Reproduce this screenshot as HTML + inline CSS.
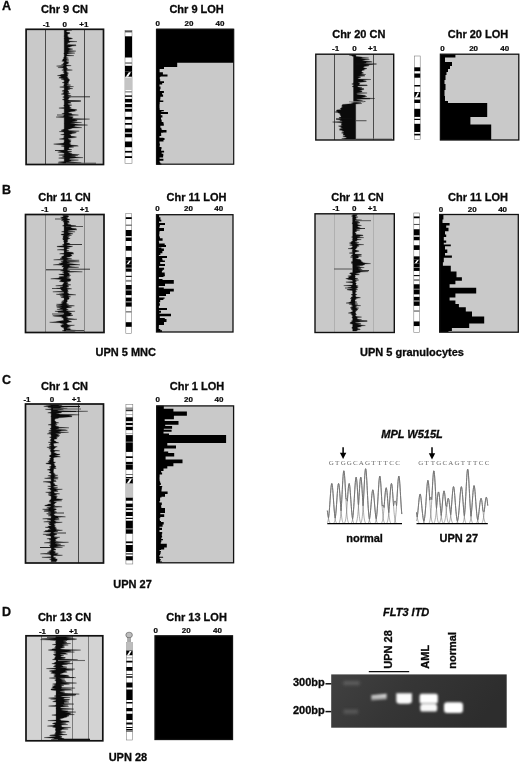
<!DOCTYPE html>
<html><head><meta charset="utf-8"><title>Figure</title>
<style>html,body{margin:0;padding:0;background:#fff}svg{display:block}</style></head>
<body>
<svg width="520" height="762" viewBox="0 0 520 762" font-family="'Liberation Sans', Arial, sans-serif">
<rect width="520" height="762" fill="#fff"/>
<text x="2.00" y="10.20" font-size="12.5" text-anchor="start" font-weight="bold" font-style="normal" fill="#0a0a0a" stroke="#0a0a0a" stroke-width="0.3" >A</text>
<text x="2.00" y="193.80" font-size="12.5" text-anchor="start" font-weight="bold" font-style="normal" fill="#0a0a0a" stroke="#0a0a0a" stroke-width="0.3" >B</text>
<text x="2.00" y="383.80" font-size="12.5" text-anchor="start" font-weight="bold" font-style="normal" fill="#0a0a0a" stroke="#0a0a0a" stroke-width="0.3" >C</text>
<text x="2.00" y="616.30" font-size="12.5" text-anchor="start" font-weight="bold" font-style="normal" fill="#0a0a0a" stroke="#0a0a0a" stroke-width="0.3" >D</text>
<text x="64.50" y="12.80" font-size="11" text-anchor="middle" font-weight="bold" font-style="normal" fill="#0a0a0a" stroke="#0a0a0a" stroke-width="0.3" >Chr 9 CN</text>
<text x="46.20" y="27.10" font-size="8" text-anchor="middle" font-weight="bold" font-style="normal" fill="#0a0a0a" stroke="#0a0a0a" stroke-width="0.22" >-1</text>
<text x="64.80" y="27.10" font-size="8" text-anchor="middle" font-weight="bold" font-style="normal" fill="#0a0a0a" stroke="#0a0a0a" stroke-width="0.22" >0</text>
<text x="83.90" y="27.10" font-size="8" text-anchor="middle" font-weight="bold" font-style="normal" fill="#0a0a0a" stroke="#0a0a0a" stroke-width="0.22" >+1</text>
<rect x="26.1" y="29.3" width="77.40" height="135.20" fill="#c9c9c9"/>
<line x1="45.5" y1="29.3" x2="45.5" y2="164.5" stroke="#2a2a2a" stroke-width="0.8"/>
<line x1="84.5" y1="29.3" x2="84.5" y2="164.5" stroke="#2a2a2a" stroke-width="0.8"/>
<polygon points="72.0,30.1 67.5,30.6 66.4,31.1 66.4,31.6 66.4,32.1 69.6,32.6 70.1,33.1 69.6,33.6 68.2,34.1 67.6,34.6 67.3,35.1 67.7,35.6 67.6,36.1 67.5,36.6 68.8,37.1 67.9,37.6 71.5,38.1 72.6,38.6 70.6,39.1 68.4,39.6 69.2,40.1 68.6,40.6 69.4,41.1 77.0,41.6 67.8,42.1 69.9,42.6 66.9,43.1 68.2,43.6 67.1,44.1 66.6,44.6 71.3,45.1 76.2,45.6 72.1,46.1 70.8,46.6 69.7,47.1 67.6,47.6 68.4,48.1 70.1,48.6 72.8,49.1 70.7,49.6 68.9,50.1 68.6,50.6 75.9,51.1 71.2,51.6 67.3,52.1 68.8,52.6 74.9,53.1 69.7,53.6 67.6,54.1 66.6,54.6 67.1,55.1 73.9,55.6 66.4,56.1 66.4,56.6 66.4,57.1 66.4,57.6 68.5,58.1 66.4,58.6 66.4,59.1 67.3,59.6 69.0,60.1 66.4,60.6 66.4,61.1 66.4,61.6 69.1,62.1 68.1,62.6 67.5,63.1 68.5,63.6 66.4,64.1 66.4,64.6 66.4,65.1 71.2,65.6 66.9,66.1 66.4,66.6 66.4,67.1 66.4,67.6 67.1,68.1 67.7,68.6 66.4,69.1 67.4,69.6 72.4,70.1 66.8,70.6 66.4,71.1 66.4,71.6 67.5,72.1 66.6,72.6 68.6,73.1 66.6,73.6 68.4,74.1 66.6,74.6 68.0,75.1 67.5,75.6 67.3,76.1 66.4,76.6 68.4,77.1 67.2,77.6 67.2,78.1 68.6,78.6 68.3,79.1 69.5,79.6 69.5,80.1 69.4,80.6 68.9,81.1 69.0,81.6 67.8,82.1 68.1,82.6 69.0,83.1 67.7,83.6 67.0,84.1 68.1,84.6 70.7,85.1 67.2,85.6 66.6,86.1 73.6,86.6 67.4,87.1 69.8,87.6 70.3,88.1 72.8,88.6 67.0,89.1 69.8,89.6 67.7,90.1 67.8,90.6 68.0,91.1 68.6,91.6 69.1,92.1 68.6,92.6 66.7,93.1 70.4,93.6 68.3,94.1 68.3,94.6 67.1,95.1 71.2,95.6 68.3,96.1 67.5,96.6 70.5,97.1 68.7,97.6 69.1,98.1 68.6,98.6 68.3,99.1 67.3,99.6 69.1,100.1 69.6,100.6 79.8,101.1 67.8,101.6 69.1,102.1 70.6,102.6 71.2,103.1 67.9,103.6 67.7,104.1 68.7,104.6 71.9,105.1 69.9,105.6 69.3,106.1 69.8,106.6 69.0,107.1 71.3,107.6 69.4,108.1 70.2,108.6 72.0,109.1 75.9,109.6 77.1,110.1 74.6,110.6 75.5,111.1 72.0,111.6 69.6,112.1 68.6,112.6 68.3,113.1 71.7,113.6 71.4,114.1 72.7,114.6 78.5,115.1 67.4,115.6 73.3,116.1 68.0,116.6 72.3,117.1 73.3,117.6 71.7,118.1 73.0,118.6 89.7,119.1 78.0,119.6 74.2,120.1 77.2,120.6 76.9,121.1 71.4,121.6 76.5,122.1 81.7,122.6 69.8,123.1 73.7,123.6 75.4,124.1 79.0,124.6 87.6,125.1 74.3,125.6 75.2,126.1 72.9,126.6 77.8,127.1 81.8,127.6 72.7,128.1 71.3,128.6 69.8,129.1 67.5,129.6 68.6,130.1 68.7,130.6 79.2,131.1 74.8,131.6 70.8,132.1 76.4,132.6 75.5,133.1 72.3,133.6 71.2,134.1 69.0,134.6 70.8,135.1 71.0,135.6 70.3,136.1 74.1,136.6 76.6,137.1 74.5,137.6 70.7,138.1 67.8,138.6 68.2,139.1 69.1,139.6 71.3,140.1 69.9,140.6 69.5,141.1 71.0,141.6 70.8,142.1 69.8,142.6 69.4,143.1 69.5,143.6 71.2,144.1 69.6,144.6 70.7,145.1 76.9,145.6 78.4,146.1 70.2,146.6 73.8,147.1 69.3,147.6 68.9,148.1 68.5,148.6 69.6,149.1 71.9,149.6 68.1,150.1 67.6,150.6 66.9,151.1 71.8,151.6 71.0,152.1 67.9,152.6 69.5,153.1 72.2,153.6 69.7,154.1 79.3,154.6 73.5,155.1 77.9,155.6 69.3,156.1 75.4,156.6 75.2,157.1 83.1,157.6 75.3,158.1 69.4,158.6 70.0,159.1 68.7,159.6 78.5,160.1 71.5,160.6 70.6,161.1 68.2,161.6 74.6,162.1 81.3,162.6 75.3,163.1 73.5,163.6 63.9,163.6 57.9,163.1 63.8,162.6 58.5,162.1 64.2,161.6 64.2,161.1 64.2,160.6 64.2,160.1 64.2,159.6 64.2,159.1 64.2,158.6 58.6,158.1 64.2,157.6 64.2,157.1 62.3,156.6 64.2,156.1 64.2,155.6 58.8,155.1 64.2,154.6 64.1,154.1 64.2,153.6 64.2,153.1 61.3,152.6 57.7,152.1 62.0,151.6 59.2,151.1 59.3,150.6 64.2,150.1 64.2,149.6 64.1,149.1 64.2,148.6 64.2,148.1 64.2,147.6 64.2,147.1 64.0,146.6 61.2,146.1 64.2,145.6 64.2,145.1 58.0,144.6 53.6,144.1 59.9,143.6 64.2,143.1 63.7,142.6 64.2,142.1 64.2,141.6 64.2,141.1 64.2,140.6 64.2,140.1 64.2,139.6 59.3,139.1 62.2,138.6 64.2,138.1 64.2,137.6 63.4,137.1 64.2,136.6 64.2,136.1 64.2,135.6 64.2,135.1 60.6,134.6 64.2,134.1 64.2,133.6 63.7,133.1 64.2,132.6 63.9,132.1 59.2,131.6 64.0,131.1 61.5,130.6 61.2,130.1 63.3,129.6 64.2,129.1 64.2,128.6 64.2,128.1 64.2,127.6 64.2,127.1 64.2,126.6 64.2,126.1 64.2,125.6 64.2,125.1 64.2,124.6 64.2,124.1 64.1,123.6 64.2,123.1 64.2,122.6 64.2,122.1 64.2,121.6 64.2,121.1 64.2,120.6 64.2,120.1 64.2,119.6 64.2,119.1 64.2,118.6 64.2,118.1 64.2,117.6 56.0,117.1 62.8,116.6 64.2,116.1 63.6,115.6 64.2,115.1 64.2,114.6 64.2,114.1 61.8,113.6 64.2,113.1 64.2,112.6 64.2,112.1 64.2,111.6 64.2,111.1 64.2,110.6 64.2,110.1 64.2,109.6 64.2,109.1 64.2,108.6 58.9,108.1 64.2,107.6 64.2,107.1 64.2,106.6 64.2,106.1 63.6,105.6 64.2,105.1 64.2,104.6 64.2,104.1 64.2,103.6 64.2,103.1 64.2,102.6 64.2,102.1 64.2,101.6 64.2,101.1 64.2,100.6 64.0,100.1 62.3,99.6 64.2,99.1 64.2,98.6 64.2,98.1 64.1,97.6 62.6,97.1 64.2,96.6 64.2,96.1 64.2,95.6 64.1,95.1 64.2,94.6 61.2,94.1 64.2,93.6 62.6,93.1 64.2,92.6 63.7,92.1 64.2,91.6 61.9,91.1 63.0,90.6 64.2,90.1 64.2,89.6 64.2,89.1 64.2,88.6 64.2,88.1 64.2,87.6 59.7,87.1 64.2,86.6 64.2,86.1 63.7,85.6 63.7,85.1 64.2,84.6 64.2,84.1 64.2,83.6 64.2,83.1 62.1,82.6 64.2,82.1 64.2,81.6 64.2,81.1 64.2,80.6 64.2,80.1 62.8,79.6 61.0,79.1 64.2,78.6 58.8,78.1 59.2,77.6 61.6,77.1 60.9,76.6 60.1,76.1 57.4,75.6 60.6,75.1 60.8,74.6 64.2,74.1 64.2,73.6 64.2,73.1 64.2,72.6 62.8,72.1 64.2,71.6 64.2,71.1 63.7,70.6 61.7,70.1 64.2,69.6 62.9,69.1 63.5,68.6 64.2,68.1 57.9,67.6 63.4,67.1 62.7,66.6 56.5,66.1 63.3,65.6 64.2,65.1 61.4,64.6 64.2,64.1 62.8,63.6 63.4,63.1 64.2,62.6 64.2,62.1 64.2,61.6 61.7,61.1 62.9,60.6 62.7,60.1 62.7,59.6 63.3,59.1 63.7,58.6 64.0,58.1 63.5,57.6 64.2,57.1 64.2,56.6 64.2,56.1 64.2,55.6 64.2,55.1 64.2,54.6 64.2,54.1 63.7,53.6 64.2,53.1 64.2,52.6 64.2,52.1 64.2,51.6 64.2,51.1 64.2,50.6 64.2,50.1 64.2,49.6 64.2,49.1 64.2,48.6 64.2,48.1 64.2,47.6 64.2,47.1 64.2,46.6 64.2,46.1 64.2,45.6 64.2,45.1 64.2,44.6 64.2,44.1 64.2,43.6 64.2,43.1 64.2,42.6 64.2,42.1 64.2,41.6 64.2,41.1 64.2,40.6 64.2,40.1 64.2,39.6 64.2,39.1 64.0,38.6 64.2,38.1 64.2,37.6 64.2,37.1 64.2,36.6 63.7,36.1 64.2,35.6 64.2,35.1 64.2,34.6 64.2,34.1 64.2,33.6 64.2,33.1 64.2,32.6 64.2,32.1 64.2,31.6 64.2,31.1 64.2,30.6 64.2,30.1" fill="#0a0a0a" stroke="#0a0a0a" stroke-width="0.3"/>
<line x1="66" y1="96.8" x2="90" y2="96.8" stroke="#111" stroke-width="0.8"/>
<line x1="66" y1="45" x2="76" y2="45" stroke="#111" stroke-width="0.7"/>
<line x1="66" y1="101" x2="81" y2="101" stroke="#111" stroke-width="1.0"/>
<line x1="66" y1="163.2" x2="96" y2="163.2" stroke="#666" stroke-width="1.2"/>
<line x1="55" y1="150.5" x2="65" y2="150.5" stroke="#111" stroke-width="0.8"/>
<line x1="57" y1="115" x2="65" y2="115" stroke="#111" stroke-width="0.7"/>
<rect x="26.1" y="29.3" width="77.40" height="135.20" fill="none" stroke="#111" stroke-width="1.7"/>
<rect x="125" y="30.6" width="7.00" height="132.80" fill="#fff" stroke="#777" stroke-width="0.55"/>
<rect x="125" y="30.6" width="7.00" height="1.80" fill="#555"/>
<rect x="125" y="36.3" width="7.00" height="21.20" fill="#000"/>
<rect x="125" y="62.2" width="7.00" height="1.70" fill="#888"/>
<rect x="125" y="65.8" width="7.00" height="5.90" fill="#000"/>
<rect x="125" y="71.7" width="7.00" height="5.00" fill="#000"/>
<path d="M125.84,76.7L128.85,72.20L130.95,72.20L128.15,76.7Z" fill="#fff"/>
<rect x="125" y="77.6" width="7.00" height="12.40" fill="#c4c4c4"/>
<rect x="125" y="91" width="7.00" height="1.60" fill="#999"/>
<rect x="125" y="95.4" width="7.00" height="1.40" fill="#000"/>
<rect x="125" y="98.9" width="7.00" height="3.50" fill="#000"/>
<rect x="125" y="104" width="7.00" height="3.30" fill="#000"/>
<rect x="125" y="108.8" width="7.00" height="2.90" fill="#000"/>
<rect x="125" y="116.9" width="7.00" height="2.70" fill="#000"/>
<rect x="125" y="123" width="7.00" height="1.70" fill="#000"/>
<rect x="125" y="128.5" width="7.00" height="3.90" fill="#000"/>
<rect x="125" y="133.7" width="7.00" height="3.60" fill="#000"/>
<rect x="125" y="141.5" width="7.00" height="5.70" fill="#000"/>
<rect x="125" y="150.9" width="7.00" height="1.70" fill="#000"/>
<rect x="125" y="156.2" width="7.00" height="1.80" fill="#000"/>
<text x="196.60" y="12.80" font-size="11" text-anchor="middle" font-weight="bold" font-style="normal" fill="#0a0a0a" stroke="#0a0a0a" stroke-width="0.3" >Chr 9 LOH</text>
<text x="157.80" y="26.10" font-size="8" text-anchor="middle" font-weight="bold" font-style="normal" fill="#0a0a0a" stroke="#0a0a0a" stroke-width="0.22" >0</text>
<text x="188.90" y="26.10" font-size="8" text-anchor="middle" font-weight="bold" font-style="normal" fill="#0a0a0a" stroke="#0a0a0a" stroke-width="0.22" >20</text>
<text x="220.00" y="26.10" font-size="8" text-anchor="middle" font-weight="bold" font-style="normal" fill="#0a0a0a" stroke="#0a0a0a" stroke-width="0.22" >40</text>
<rect x="156.5" y="29.3" width="77.20" height="134.90" fill="#c9c9c9"/>
<path d="M156.5,28.7H233.7V62.7H156.5ZM156.5,62.7H177.2V67.1H156.5ZM156.5,67.1H164.0V69.0H156.5ZM156.5,69.0H159.6V70.1H156.5ZM156.5,70.1H159.6V72.2H156.5ZM156.5,72.2H162.9V74.7H156.5ZM156.5,74.7H160.5V76.9H156.5ZM156.5,76.9H159.8V79.3H156.5ZM156.5,79.3H160.2V81.2H156.5ZM156.5,81.2H164.0V83.0H156.5ZM156.5,83.0H162.2V84.4H156.5ZM156.5,84.4H159.5V86.6H156.5ZM156.5,86.6H160.5V89.2H156.5ZM156.5,89.2H159.9V91.0H156.5ZM156.5,91.0H163.9V92.9H156.5ZM156.5,92.9H162.1V94.5H156.5ZM156.5,94.5H163.1V96.7H156.5ZM156.5,96.7H160.4V98.8H156.5ZM156.5,98.8H160.2V100.4H156.5ZM156.5,100.4H163.3V102.0H156.5ZM156.5,102.0H159.7V104.3H156.5ZM156.5,104.3H159.5V105.7H156.5ZM156.5,105.7H159.5V108.2H156.5ZM156.5,108.2H159.7V109.9H156.5ZM156.5,109.9H163.8V111.2H156.5ZM156.5,111.2H161.4V112.9H156.5ZM156.5,112.9H160.8V115.2H156.5ZM156.5,115.2H162.4V117.5H156.5ZM156.5,117.5H161.0V119.5H156.5ZM156.5,119.5H161.7V121.9H156.5ZM156.5,121.9H163.4V123.4H156.5ZM156.5,123.4H163.8V125.8H156.5ZM156.5,125.8H160.4V127.8H156.5ZM156.5,127.8H161.4V129.4H156.5ZM156.5,129.4H162.1V130.7H156.5ZM156.5,130.7H163.2V132.8H156.5ZM156.5,132.8H161.1V134.2H156.5ZM156.5,134.2H161.2V136.0H156.5ZM156.5,136.0H159.5V137.7H156.5ZM156.5,137.7H163.4V140.2H156.5ZM156.5,140.2H163.5V141.4H156.5ZM156.5,141.4H159.5V143.4H156.5ZM156.5,143.4H159.9V145.4H156.5ZM156.5,145.4H159.6V147.0H156.5ZM156.5,147.0H161.5V149.3H156.5ZM156.5,149.3H161.1V150.7H156.5ZM156.5,150.7H164.1V152.4H156.5ZM156.5,152.4H161.7V153.7H156.5ZM156.5,153.7H163.3V156.0H156.5ZM156.5,156.0H163.1V157.4H156.5ZM156.5,157.4H159.6V158.7H156.5ZM156.5,158.7H163.4V160.7H156.5ZM156.5,160.7H159.6V162.3H156.5ZM156.5,162.3H160.3V163.5H156.5ZM156.5,163.5H161.4V164.8H156.5ZM156.5,74.5H167.5V76.5H156.5ZM156.5,112.0H168.0V114.0H156.5ZM156.5,130.0H166.5V132.5H156.5ZM156.5,138.0H164.5V140.0H156.5Z" fill="#000"/>
<rect x="156.5" y="29.3" width="77.20" height="134.90" fill="none" stroke="#111" stroke-width="1.2"/>
<text x="358.80" y="38.20" font-size="11" text-anchor="middle" font-weight="bold" font-style="normal" fill="#0a0a0a" stroke="#0a0a0a" stroke-width="0.3" >Chr 20 CN</text>
<text x="335.60" y="50.60" font-size="8" text-anchor="middle" font-weight="bold" font-style="normal" fill="#0a0a0a" stroke="#0a0a0a" stroke-width="0.22" >-1</text>
<text x="354.50" y="50.60" font-size="8" text-anchor="middle" font-weight="bold" font-style="normal" fill="#0a0a0a" stroke="#0a0a0a" stroke-width="0.22" >0</text>
<text x="372.60" y="50.60" font-size="8" text-anchor="middle" font-weight="bold" font-style="normal" fill="#0a0a0a" stroke="#0a0a0a" stroke-width="0.22" >+1</text>
<rect x="315.8" y="54.2" width="77.90" height="85.80" fill="#c9c9c9"/>
<line x1="334.5" y1="54.2" x2="334.5" y2="140" stroke="#2a2a2a" stroke-width="0.8"/>
<line x1="373.5" y1="54.2" x2="373.5" y2="140" stroke="#2a2a2a" stroke-width="0.8"/>
<polygon points="355.7,55.0 356.0,55.5 355.7,56.0 356.4,56.5 361.1,57.0 362.9,57.5 368.8,58.0 359.9,58.5 363.7,59.0 369.4,59.5 364.6,60.0 361.8,60.5 365.7,61.0 370.5,61.5 372.3,62.0 366.1,62.5 366.1,63.0 363.1,63.5 369.0,64.0 372.7,64.5 365.2,65.0 369.2,65.5 368.2,66.0 363.5,66.5 364.4,67.0 362.7,67.5 364.3,68.0 367.0,68.5 365.7,69.0 363.3,69.5 364.5,70.0 362.1,70.5 362.0,71.0 361.0,71.5 362.2,72.0 362.5,72.5 363.6,73.0 361.9,73.5 361.2,74.0 365.8,74.5 359.0,75.0 364.2,75.5 365.0,76.0 357.3,76.5 360.7,77.0 360.3,77.5 358.3,78.0 357.5,78.5 359.4,79.0 371.0,79.5 362.8,80.0 363.6,80.5 366.2,81.0 366.3,81.5 363.1,82.0 357.6,82.5 359.0,83.0 359.9,83.5 359.7,84.0 359.3,84.5 358.6,85.0 367.5,85.5 357.0,86.0 357.9,86.5 357.9,87.0 362.0,87.5 358.9,88.0 364.0,88.5 360.5,89.0 364.1,89.5 361.8,90.0 359.0,90.5 362.1,91.0 361.9,91.5 361.5,92.0 356.5,92.5 367.1,93.0 357.0,93.5 356.5,94.0 357.8,94.5 362.1,95.0 365.5,95.5 364.5,96.0 366.9,96.5 364.0,97.0 360.8,97.5 365.8,98.0 374.8,98.5 362.0,99.0 356.1,99.5 357.8,100.0 361.5,100.5 363.2,101.0 365.5,101.5 358.0,102.0 361.0,102.5 356.2,103.0 361.9,103.5 355.7,104.0 355.7,104.5 355.7,105.0 355.7,105.5 355.7,106.0 355.7,106.5 355.7,107.0 355.7,107.5 355.7,108.0 355.7,108.5 355.7,109.0 355.7,109.5 355.7,110.0 355.7,110.5 355.7,111.0 355.7,111.5 355.7,112.0 355.7,112.5 355.7,113.0 355.7,113.5 355.7,114.0 355.7,114.5 355.7,115.0 355.7,115.5 355.7,116.0 355.7,116.5 355.7,117.0 355.7,117.5 355.7,118.0 355.7,118.5 355.7,119.0 355.7,119.5 355.7,120.0 355.7,120.5 355.7,121.0 355.7,121.5 355.7,122.0 355.7,122.5 355.7,123.0 355.7,123.5 355.7,124.0 355.7,124.5 355.7,125.0 355.7,125.5 355.7,126.0 355.7,126.5 355.7,127.0 355.7,127.5 355.7,128.0 355.7,128.5 355.7,129.0 355.7,129.5 355.7,130.0 355.7,130.5 355.7,131.0 355.7,131.5 355.7,132.0 355.7,132.5 355.7,133.0 355.7,133.5 355.7,134.0 355.7,134.5 355.7,135.0 355.7,135.5 355.7,136.0 355.7,136.5 355.7,137.0 355.7,137.5 355.7,138.0 355.7,138.5 355.7,139.0 345.1,139.0 341.7,138.5 346.9,138.0 346.2,137.5 345.5,137.0 342.8,136.5 344.7,136.0 345.4,135.5 342.9,135.0 343.9,134.5 342.9,134.0 344.3,133.5 341.4,133.0 342.4,132.5 344.0,132.0 344.0,131.5 341.8,131.0 343.3,130.5 339.3,130.0 340.9,129.5 339.3,129.0 343.2,128.5 340.5,128.0 341.3,127.5 341.8,127.0 339.9,126.5 338.4,126.0 343.0,125.5 340.9,125.0 341.7,124.5 341.5,124.0 341.3,123.5 342.5,123.0 338.9,122.5 332.5,122.0 342.2,121.5 342.2,121.0 339.9,120.5 340.1,120.0 336.0,119.5 341.7,119.0 340.7,118.5 338.9,118.0 339.2,117.5 340.8,117.0 341.1,116.5 341.1,116.0 340.5,115.5 340.1,115.0 340.5,114.5 339.4,114.0 340.4,113.5 338.5,113.0 337.7,112.5 334.8,112.0 338.1,111.5 335.9,111.0 337.1,110.5 336.6,110.0 341.4,109.5 340.6,109.0 340.4,108.5 340.9,108.0 342.6,107.5 341.4,107.0 342.4,106.5 342.3,106.0 341.8,105.5 342.3,105.0 342.6,104.5 348.3,104.0 353.5,103.5 351.3,103.0 353.4,102.5 353.4,102.0 353.5,101.5 353.5,101.0 353.5,100.5 353.5,100.0 353.5,99.5 353.5,99.0 353.5,98.5 353.5,98.0 353.5,97.5 353.5,97.0 353.5,96.5 353.5,96.0 353.5,95.5 353.5,95.0 353.5,94.5 353.5,94.0 353.5,93.5 353.5,93.0 353.5,92.5 353.5,92.0 353.5,91.5 353.4,91.0 353.5,90.5 353.5,90.0 353.5,89.5 353.5,89.0 353.5,88.5 353.5,88.0 353.5,87.5 353.5,87.0 352.1,86.5 353.5,86.0 353.5,85.5 353.5,85.0 353.5,84.5 351.7,84.0 353.5,83.5 353.1,83.0 353.5,82.5 353.5,82.0 353.5,81.5 353.5,81.0 353.5,80.5 353.5,80.0 353.5,79.5 353.5,79.0 353.5,78.5 353.5,78.0 353.5,77.5 353.5,77.0 353.5,76.5 353.5,76.0 353.5,75.5 353.5,75.0 353.5,74.5 353.5,74.0 353.5,73.5 353.5,73.0 353.5,72.5 353.5,72.0 353.5,71.5 353.5,71.0 353.5,70.5 353.5,70.0 353.5,69.5 353.5,69.0 353.5,68.5 353.5,68.0 353.5,67.5 353.5,67.0 353.5,66.5 353.5,66.0 353.5,65.5 353.5,65.0 353.5,64.5 353.5,64.0 353.5,63.5 353.5,63.0 353.5,62.5 353.5,62.0 353.5,61.5 353.5,61.0 353.5,60.5 353.5,60.0 353.5,59.5 353.5,59.0 353.5,58.5 353.5,58.0 353.5,57.5 353.5,57.0 353.5,56.5 352.0,56.0 351.6,55.5 349.1,55.0" fill="#0a0a0a" stroke="#0a0a0a" stroke-width="0.3"/>
<line x1="356" y1="64" x2="376.5" y2="64" stroke="#111" stroke-width="0.9"/>
<line x1="349" y1="101.8" x2="364" y2="101.8" stroke="#888" stroke-width="1.0"/>
<line x1="356" y1="120.7" x2="366.5" y2="120.7" stroke="#555" stroke-width="1.1"/>
<line x1="336" y1="118.7" x2="352" y2="118.7" stroke="#111" stroke-width="0.7"/>
<line x1="356" y1="98.7" x2="370" y2="98.7" stroke="#111" stroke-width="0.8"/>
<line x1="356" y1="85.2" x2="367" y2="85.2" stroke="#111" stroke-width="0.7"/>
<line x1="356" y1="139" x2="392" y2="139" stroke="#777" stroke-width="1.0"/>
<rect x="315.8" y="54.2" width="77.90" height="85.80" fill="none" stroke="#111" stroke-width="1.4"/>
<rect x="414.3" y="56" width="5.90" height="83.50" fill="#fff" stroke="#777" stroke-width="0.55"/>
<rect x="414.3" y="67.3" width="5.90" height="3.90" fill="#000"/>
<rect x="414.3" y="73.5" width="5.90" height="4.20" fill="#000"/>
<rect x="414.3" y="85" width="5.90" height="1.50" fill="#000"/>
<rect x="414.3" y="92" width="5.90" height="5.30" fill="#000"/>
<path d="M415.01,97.3L417.55,92.53L419.31,92.53L416.95,97.3Z" fill="#fff"/>
<rect x="414.3" y="99.6" width="5.90" height="3.40" fill="#000"/>
<rect x="414.3" y="108.8" width="5.90" height="8.10" fill="#000"/>
<rect x="414.3" y="118.8" width="5.90" height="1.20" fill="#000"/>
<rect x="414.3" y="123.8" width="5.90" height="8.20" fill="#000"/>
<rect x="414.3" y="133.8" width="5.90" height="1.60" fill="#000"/>
<text x="478.00" y="38.20" font-size="11" text-anchor="middle" font-weight="bold" font-style="normal" fill="#0a0a0a" stroke="#0a0a0a" stroke-width="0.3" >Chr 20 LOH</text>
<text x="442.60" y="51.20" font-size="8" text-anchor="middle" font-weight="bold" font-style="normal" fill="#0a0a0a" stroke="#0a0a0a" stroke-width="0.22" >0</text>
<text x="473.60" y="51.20" font-size="8" text-anchor="middle" font-weight="bold" font-style="normal" fill="#0a0a0a" stroke="#0a0a0a" stroke-width="0.22" >20</text>
<text x="504.70" y="51.20" font-size="8" text-anchor="middle" font-weight="bold" font-style="normal" fill="#0a0a0a" stroke="#0a0a0a" stroke-width="0.22" >40</text>
<rect x="440.4" y="54.2" width="78.40" height="85.80" fill="#c9c9c9"/>
<path d="M440.4,54.2H455.4V57.4H440.4ZM440.4,57.4H445.0V62.0H440.4ZM440.4,62.0H452.0V66.0H440.4ZM440.4,66.0H450.0V69.0H440.4ZM440.4,69.0H448.0V72.0H440.4ZM440.4,72.0H446.5V75.0H440.4ZM440.4,75.0H445.5V80.0H440.4ZM440.4,80.0H444.5V84.0H440.4ZM440.4,84.0H445.5V90.0H440.4ZM440.4,90.0H444.5V96.0H440.4ZM440.4,96.0H445.0V101.0H440.4ZM440.4,101.0H448.0V103.0H440.4ZM440.4,103.0H487.2V117.0H440.4ZM440.4,117.0H470.4V124.6H440.4ZM440.4,124.6H491.2V140.0H440.4Z" fill="#000"/>
<rect x="440.4" y="54.2" width="78.40" height="85.80" fill="none" stroke="#111" stroke-width="1.3"/>
<text x="64.50" y="201.30" font-size="11" text-anchor="middle" font-weight="bold" font-style="normal" fill="#0a0a0a" stroke="#0a0a0a" stroke-width="0.3" >Chr 11 CN</text>
<text x="44.80" y="211.60" font-size="8" text-anchor="middle" font-weight="bold" font-style="normal" fill="#0a0a0a" stroke="#0a0a0a" stroke-width="0.22" >-1</text>
<text x="65.10" y="211.60" font-size="8" text-anchor="middle" font-weight="bold" font-style="normal" fill="#0a0a0a" stroke="#0a0a0a" stroke-width="0.22" >0</text>
<text x="84.30" y="211.60" font-size="8" text-anchor="middle" font-weight="bold" font-style="normal" fill="#0a0a0a" stroke="#0a0a0a" stroke-width="0.22" >+1</text>
<rect x="25.5" y="214.5" width="78.50" height="118.00" fill="#c9c9c9"/>
<line x1="45.5" y1="214.5" x2="45.5" y2="332.5" stroke="#777" stroke-width="0.8"/>
<line x1="84.5" y1="214.5" x2="84.5" y2="332.5" stroke="#777" stroke-width="0.8"/>
<polygon points="66.6,215.3 68.2,215.8 69.0,216.3 67.8,216.8 68.0,217.3 66.3,217.8 67.0,218.3 67.7,218.8 69.1,219.3 70.1,219.8 66.3,220.3 67.8,220.8 69.2,221.3 68.9,221.8 66.9,222.3 69.5,222.8 67.8,223.3 67.4,223.8 68.0,224.3 70.8,224.8 71.4,225.3 76.1,225.8 72.9,226.3 71.3,226.8 71.2,227.3 70.4,227.8 72.5,228.3 76.4,228.8 75.4,229.3 77.0,229.8 70.6,230.3 68.4,230.8 67.4,231.3 75.1,231.8 68.8,232.3 67.6,232.8 70.6,233.3 73.1,233.8 70.2,234.3 68.5,234.8 71.6,235.3 67.3,235.8 69.5,236.3 66.8,236.8 68.7,237.3 67.5,237.8 70.2,238.3 68.7,238.8 67.0,239.3 68.3,239.8 67.5,240.3 67.5,240.8 67.1,241.3 68.0,241.8 66.7,242.3 66.3,242.8 69.5,243.3 69.4,243.8 70.5,244.3 67.9,244.8 66.3,245.3 68.0,245.8 72.7,246.3 71.1,246.8 68.7,247.3 66.5,247.8 69.5,248.3 67.1,248.8 66.6,249.3 66.8,249.8 66.6,250.3 69.1,250.8 66.9,251.3 66.3,251.8 71.5,252.3 73.4,252.8 72.2,253.3 74.0,253.8 71.2,254.3 70.5,254.8 71.6,255.3 72.2,255.8 70.1,256.3 70.4,256.8 67.3,257.3 66.3,257.8 68.0,258.3 71.8,258.8 66.3,259.3 69.1,259.8 79.2,260.3 66.3,260.8 67.2,261.3 79.3,261.8 70.1,262.3 69.0,262.8 66.4,263.3 72.0,263.8 75.9,264.3 80.0,264.8 68.8,265.3 69.8,265.8 69.4,266.3 72.2,266.8 78.8,267.3 68.1,267.8 68.5,268.3 67.3,268.8 67.6,269.3 66.9,269.8 67.6,270.3 69.9,270.8 69.1,271.3 82.4,271.8 68.1,272.3 67.5,272.8 69.6,273.3 68.5,273.8 69.1,274.3 69.6,274.8 70.7,275.3 68.4,275.8 69.7,276.3 67.3,276.8 66.3,277.3 69.5,277.8 66.3,278.3 69.9,278.8 71.2,279.3 69.9,279.8 70.3,280.3 71.0,280.8 69.7,281.3 67.0,281.8 66.3,282.3 68.0,282.8 68.3,283.3 67.4,283.8 66.3,284.3 70.9,284.8 68.8,285.3 67.4,285.8 67.4,286.3 69.0,286.8 67.3,287.3 66.3,287.8 67.7,288.3 71.7,288.8 68.1,289.3 66.8,289.8 68.1,290.3 67.3,290.8 68.5,291.3 66.9,291.8 67.6,292.3 67.2,292.8 68.8,293.3 67.2,293.8 70.1,294.3 75.9,294.8 67.2,295.3 68.7,295.8 68.2,296.3 70.7,296.8 68.1,297.3 69.2,297.8 69.2,298.3 69.0,298.8 68.7,299.3 67.2,299.8 67.3,300.3 67.0,300.8 67.3,301.3 67.2,301.8 66.5,302.3 66.3,302.8 66.3,303.3 67.3,303.8 68.7,304.3 66.3,304.8 67.5,305.3 74.5,305.8 70.8,306.3 67.8,306.8 71.6,307.3 68.1,307.8 66.4,308.3 66.3,308.8 66.8,309.3 68.4,309.8 66.3,310.3 66.3,310.8 75.1,311.3 67.7,311.8 68.7,312.3 70.1,312.8 71.5,313.3 71.4,313.8 69.8,314.3 71.4,314.8 73.0,315.3 70.9,315.8 67.9,316.3 66.3,316.8 66.3,317.3 67.9,317.8 67.6,318.3 72.1,318.8 77.0,319.3 66.3,319.8 69.3,320.3 67.7,320.8 70.8,321.3 71.7,321.8 68.7,322.3 67.5,322.8 66.4,323.3 66.5,323.8 67.6,324.3 66.9,324.8 74.5,325.3 68.8,325.8 68.5,326.3 70.5,326.8 69.0,327.3 67.5,327.8 66.8,328.3 70.3,328.8 70.4,329.3 70.3,329.8 75.8,330.3 75.7,330.8 74.4,331.3 64.1,331.3 62.1,330.8 64.1,330.3 64.1,329.8 64.1,329.3 64.1,328.8 63.6,328.3 64.1,327.8 62.2,327.3 61.2,326.8 61.1,326.3 60.5,325.8 62.1,325.3 61.6,324.8 64.1,324.3 63.3,323.8 61.0,323.3 59.5,322.8 49.6,322.3 55.7,321.8 58.0,321.3 61.5,320.8 64.1,320.3 63.8,319.8 63.3,319.3 63.1,318.8 64.1,318.3 61.5,317.8 63.1,317.3 61.8,316.8 54.7,316.3 52.7,315.8 58.6,315.3 63.3,314.8 63.6,314.3 64.1,313.8 64.1,313.3 63.5,312.8 58.0,312.3 58.2,311.8 54.9,311.3 60.7,310.8 63.3,310.3 62.6,309.8 56.9,309.3 60.2,308.8 60.2,308.3 62.3,307.8 56.7,307.3 61.6,306.8 56.9,306.3 56.2,305.8 62.7,305.3 60.6,304.8 56.4,304.3 63.0,303.8 61.7,303.3 61.2,302.8 62.6,302.3 64.1,301.8 61.6,301.3 62.9,300.8 64.1,300.3 64.1,299.8 64.1,299.3 64.1,298.8 64.1,298.3 63.6,297.8 60.9,297.3 64.0,296.8 61.6,296.3 59.9,295.8 64.1,295.3 62.0,294.8 56.2,294.3 60.4,293.8 64.1,293.3 64.0,292.8 63.9,292.3 52.8,291.8 64.1,291.3 61.6,290.8 62.8,290.3 60.8,289.8 61.1,289.3 61.4,288.8 56.5,288.3 62.1,287.8 60.0,287.3 63.1,286.8 62.8,286.3 55.7,285.8 62.8,285.3 62.3,284.8 63.2,284.3 62.9,283.8 64.1,283.3 64.1,282.8 64.1,282.3 61.3,281.8 59.3,281.3 60.2,280.8 61.0,280.3 61.6,279.8 59.1,279.3 50.7,278.8 57.2,278.3 60.8,277.8 58.8,277.3 59.3,276.8 64.1,276.3 63.6,275.8 64.1,275.3 60.2,274.8 58.7,274.3 64.0,273.8 64.1,273.3 64.1,272.8 62.4,272.3 64.1,271.8 63.4,271.3 60.4,270.8 62.5,270.3 63.6,269.8 63.1,269.3 63.3,268.8 63.1,268.3 64.1,267.8 63.6,267.3 61.7,266.8 62.3,266.3 63.4,265.8 62.7,265.3 53.2,264.8 59.9,264.3 61.2,263.8 58.8,263.3 62.7,262.8 62.5,262.3 60.8,261.8 63.3,261.3 63.0,260.8 64.0,260.3 53.6,259.8 64.1,259.3 61.9,258.8 60.0,258.3 62.1,257.8 61.5,257.3 61.6,256.8 62.6,256.3 63.8,255.8 64.1,255.3 64.1,254.8 64.1,254.3 59.5,253.8 63.7,253.3 64.1,252.8 64.1,252.3 64.1,251.8 64.1,251.3 64.1,250.8 64.1,250.3 57.2,249.8 64.1,249.3 64.1,248.8 64.1,248.3 64.1,247.8 64.1,247.3 57.1,246.8 57.1,246.3 63.3,245.8 63.7,245.3 62.3,244.8 63.8,244.3 64.1,243.8 64.1,243.3 64.1,242.8 64.1,242.3 63.7,241.8 63.7,241.3 64.1,240.8 64.1,240.3 62.8,239.8 63.2,239.3 62.5,238.8 63.5,238.3 63.2,237.8 63.1,237.3 62.9,236.8 63.3,236.3 63.8,235.8 63.4,235.3 61.2,234.8 61.2,234.3 64.1,233.8 64.1,233.3 64.1,232.8 64.1,232.3 61.5,231.8 64.1,231.3 64.1,230.8 64.1,230.3 64.1,229.8 64.1,229.3 64.1,228.8 64.1,228.3 64.1,227.8 64.1,227.3 64.1,226.8 64.1,226.3 62.4,225.8 64.1,225.3 64.1,224.8 64.1,224.3 64.0,223.8 64.1,223.3 64.1,222.8 64.1,222.3 62.8,221.8 64.1,221.3 63.9,220.8 61.2,220.3 63.0,219.8 61.7,219.3 64.1,218.8 61.4,218.3 62.2,217.8 60.5,217.3 63.9,216.8 63.0,216.3 63.9,215.8 62.5,215.3" fill="#0a0a0a" stroke="#0a0a0a" stroke-width="0.3"/>
<line x1="46" y1="269.8" x2="65" y2="269.8" stroke="#111" stroke-width="0.9"/>
<line x1="66" y1="269.2" x2="90" y2="269.2" stroke="#111" stroke-width="0.8"/>
<line x1="66" y1="226.5" x2="83" y2="226.5" stroke="#333" stroke-width="0.8"/>
<line x1="55" y1="219" x2="65" y2="219" stroke="#111" stroke-width="0.7"/>
<line x1="52" y1="288.5" x2="65" y2="288.5" stroke="#111" stroke-width="0.7"/>
<line x1="52" y1="314" x2="65" y2="314" stroke="#111" stroke-width="0.7"/>
<line x1="66" y1="244.5" x2="82" y2="244.5" stroke="#111" stroke-width="0.8"/>
<line x1="66" y1="330.5" x2="84" y2="330.5" stroke="#444" stroke-width="1"/>
<rect x="25.5" y="214.5" width="78.50" height="118.00" fill="none" stroke="#111" stroke-width="1.7"/>
<rect x="125.8" y="213.4" width="5.90" height="120.20" fill="#fff" stroke="#777" stroke-width="0.55"/>
<rect x="125.8" y="217.2" width="5.90" height="1.80" fill="#000"/>
<rect x="125.8" y="224.7" width="5.90" height="0.90" fill="#333"/>
<rect x="125.8" y="230.0" width="5.90" height="6.10" fill="#000"/>
<rect x="125.8" y="237.5" width="5.90" height="3.50" fill="#000"/>
<rect x="125.8" y="246.0" width="5.90" height="4.70" fill="#000"/>
<rect x="125.8" y="257.1" width="5.90" height="3.25" fill="#000"/>
<rect x="125.8" y="260.35" width="5.90" height="4.00" fill="#000"/>
<path d="M126.51,264.35L129.04,260.75L130.81,260.75L128.45,264.35Z" fill="#fff"/>
<rect x="125.8" y="264.35" width="5.90" height="3.45" fill="#000"/>
<rect x="125.8" y="267.8" width="5.90" height="0.95" fill="#777"/>
<rect x="125.8" y="268.75" width="5.90" height="2.95" fill="#000"/>
<rect x="125.8" y="275.8" width="5.90" height="1.10" fill="#000"/>
<rect x="125.8" y="279.9" width="5.90" height="1.90" fill="#888"/>
<rect x="125.8" y="285.0" width="5.90" height="4.60" fill="#000"/>
<rect x="125.8" y="289.6" width="5.90" height="0.90" fill="#777"/>
<rect x="125.8" y="290.5" width="5.90" height="4.60" fill="#000"/>
<rect x="125.8" y="297.6" width="5.90" height="3.70" fill="#000"/>
<rect x="125.8" y="301.3" width="5.90" height="1.10" fill="#666"/>
<rect x="125.8" y="302.4" width="5.90" height="4.20" fill="#000"/>
<rect x="125.8" y="311.0" width="5.90" height="1.60" fill="#888"/>
<rect x="125.8" y="322.2" width="5.90" height="4.60" fill="#000"/>
<text x="196.50" y="201.30" font-size="11" text-anchor="middle" font-weight="bold" font-style="normal" fill="#0a0a0a" stroke="#0a0a0a" stroke-width="0.3" >Chr 11 LOH</text>
<text x="157.50" y="211.00" font-size="8" text-anchor="middle" font-weight="bold" font-style="normal" fill="#0a0a0a" stroke="#0a0a0a" stroke-width="0.22" >0</text>
<text x="188.50" y="211.00" font-size="8" text-anchor="middle" font-weight="bold" font-style="normal" fill="#0a0a0a" stroke="#0a0a0a" stroke-width="0.22" >20</text>
<text x="218.80" y="211.00" font-size="8" text-anchor="middle" font-weight="bold" font-style="normal" fill="#0a0a0a" stroke="#0a0a0a" stroke-width="0.22" >40</text>
<rect x="156.5" y="214.7" width="76.50" height="117.30" fill="#c9c9c9"/>
<path d="M156.5,215.0H159.1V217.3H156.5ZM156.5,217.3H160.4V219.8H156.5ZM156.5,219.8H161.3V221.5H156.5ZM156.5,221.5H159.0V222.7H156.5ZM156.5,222.7H159.1V224.4H156.5ZM156.5,224.4H159.9V226.5H156.5ZM156.5,226.5H159.3V228.1H156.5ZM156.5,228.1H162.1V229.5H156.5ZM156.5,229.5H159.6V231.9H156.5ZM156.5,231.9H159.4V234.2H156.5ZM156.5,234.2H159.2V236.4H156.5ZM156.5,236.4H159.9V238.3H156.5ZM156.5,238.3H162.6V240.7H156.5ZM156.5,240.7H158.9V241.9H156.5ZM156.5,241.9H159.1V243.6H156.5ZM156.5,243.6H164.7V245.0H156.5ZM156.5,245.0H158.8V247.5H156.5ZM156.5,247.5H161.4V248.5H156.5ZM156.5,248.5H163.9V251.0H156.5ZM156.5,251.0H162.4V253.2H156.5ZM156.5,253.2H160.4V254.9H156.5ZM156.5,254.9H158.9V257.3H156.5ZM156.5,257.3H162.2V259.4H156.5ZM156.5,259.4H162.7V260.6H156.5ZM156.5,260.6H164.9V261.9H156.5ZM156.5,261.9H160.2V264.1H156.5ZM156.5,264.1H165.0V266.1H156.5ZM156.5,266.1H159.1V267.7H156.5ZM156.5,267.7H164.1V269.8H156.5ZM156.5,269.8H162.6V271.0H156.5ZM156.5,271.0H161.9V272.6H156.5ZM156.5,272.6H164.7V274.4H156.5ZM156.5,274.4H164.9V276.3H156.5ZM156.5,276.3H158.9V278.9H156.5ZM156.5,278.9H162.5V281.4H156.5ZM156.5,281.4H161.0V282.6H156.5ZM156.5,282.6H158.8V284.0H156.5ZM156.5,284.0H159.7V285.1H156.5ZM156.5,285.1H158.8V287.5H156.5ZM156.5,287.5H163.8V289.5H156.5ZM156.5,289.5H162.2V291.0H156.5ZM156.5,291.0H162.6V293.0H156.5ZM156.5,293.0H165.1V294.8H156.5ZM156.5,294.8H159.1V296.4H156.5ZM156.5,296.4H159.2V297.6H156.5ZM156.5,297.6H164.6V298.8H156.5ZM156.5,298.8H163.4V300.0H156.5ZM156.5,300.0H160.2V302.2H156.5ZM156.5,302.2H159.1V303.3H156.5ZM156.5,303.3H159.9V305.8H156.5ZM156.5,305.8H158.9V308.0H156.5ZM156.5,308.0H159.6V309.1H156.5ZM156.5,309.1H159.1V310.7H156.5ZM156.5,310.7H161.0V312.7H156.5ZM156.5,312.7H159.4V314.6H156.5ZM156.5,314.6H159.3V316.3H156.5ZM156.5,316.3H159.8V318.1H156.5ZM156.5,318.1H164.8V320.2H156.5ZM156.5,320.2H161.1V321.7H156.5ZM156.5,321.7H163.3V322.9H156.5ZM156.5,322.9H161.1V324.7H156.5ZM156.5,324.7H158.9V326.6H156.5ZM156.5,326.6H158.8V329.0H156.5ZM156.5,329.0H160.3V330.3H156.5ZM156.5,330.3H162.0V332.0H156.5ZM156.5,223.0H165.0V225.0H156.5ZM156.5,228.0H164.0V231.0H156.5ZM156.5,245.0H166.0V247.0H156.5ZM156.5,256.0H167.0V258.0H156.5ZM156.5,275.0H163.5V277.0H156.5ZM156.5,280.0H173.8V283.8H156.5ZM156.5,283.8H165.0V286.0H156.5ZM156.5,288.8H173.8V291.5H156.5ZM156.5,291.5H170.0V294.0H156.5ZM156.5,294.0H166.0V296.0H156.5ZM156.5,308.0H167.0V310.0H156.5ZM156.5,313.8H171.0V316.2H156.5ZM156.5,319.0H166.5V322.0H156.5ZM156.5,322.0H164.0V325.0H156.5Z" fill="#000"/>
<rect x="156.5" y="214.7" width="76.50" height="117.30" fill="none" stroke="#111" stroke-width="1.3"/>
<text x="125.75" y="355.50" font-size="11" text-anchor="middle" font-weight="bold" font-style="normal" fill="#0a0a0a" stroke="#0a0a0a" stroke-width="0.3" >UPN 5 MNC</text>
<text x="357.50" y="200.70" font-size="11" text-anchor="middle" font-weight="bold" font-style="normal" fill="#0a0a0a" stroke="#0a0a0a" stroke-width="0.3" >Chr 11 CN</text>
<text x="336.00" y="211.30" font-size="8" text-anchor="middle" font-weight="bold" font-style="normal" fill="#0a0a0a" stroke="#0a0a0a" stroke-width="0.22" >-1</text>
<text x="354.30" y="211.30" font-size="8" text-anchor="middle" font-weight="bold" font-style="normal" fill="#0a0a0a" stroke="#0a0a0a" stroke-width="0.22" >0</text>
<text x="372.40" y="211.30" font-size="8" text-anchor="middle" font-weight="bold" font-style="normal" fill="#0a0a0a" stroke="#0a0a0a" stroke-width="0.22" >+1</text>
<rect x="315" y="213.8" width="79.30" height="118.70" fill="#c9c9c9"/>
<line x1="334.5" y1="213.8" x2="334.5" y2="332.5" stroke="#aaa" stroke-width="0.8"/>
<line x1="373.5" y1="213.8" x2="373.5" y2="332.5" stroke="#aaa" stroke-width="0.8"/>
<polygon points="357.5,214.6 356.0,215.1 357.0,215.6 355.1,216.1 355.4,216.6 358.1,217.1 355.8,217.6 356.3,218.1 355.1,218.6 356.6,219.1 355.2,219.6 361.9,220.1 356.0,220.6 357.7,221.1 358.7,221.6 356.0,222.1 360.0,222.6 359.3,223.1 357.1,223.6 357.5,224.1 357.5,224.6 359.6,225.1 361.5,225.6 357.5,226.1 357.5,226.6 357.8,227.1 359.2,227.6 360.3,228.1 361.5,228.6 356.5,229.1 356.4,229.6 359.9,230.1 357.3,230.6 355.9,231.1 356.7,231.6 354.9,232.1 354.9,232.6 355.5,233.1 355.9,233.6 356.3,234.1 355.4,234.6 363.0,235.1 363.1,235.6 359.7,236.1 359.9,236.6 356.6,237.1 363.8,237.6 357.4,238.1 357.1,238.6 357.2,239.1 361.3,239.6 356.3,240.1 356.9,240.6 357.3,241.1 354.9,241.6 354.9,242.1 359.0,242.6 354.9,243.1 357.4,243.6 356.3,244.1 363.8,244.6 357.2,245.1 358.3,245.6 359.2,246.1 357.2,246.6 356.6,247.1 357.3,247.6 356.1,248.1 356.2,248.6 355.7,249.1 354.9,249.6 355.7,250.1 357.3,250.6 359.2,251.1 357.9,251.6 355.9,252.1 354.9,252.6 354.9,253.1 354.9,253.6 355.2,254.1 361.6,254.6 360.9,255.1 356.4,255.6 361.7,256.1 357.6,256.6 358.9,257.1 358.2,257.6 357.9,258.1 355.4,258.6 356.7,259.1 360.3,259.6 360.1,260.1 361.3,260.6 361.1,261.1 361.2,261.6 362.8,262.1 362.3,262.6 365.2,263.1 370.7,263.6 363.6,264.1 364.9,264.6 363.5,265.1 362.3,265.6 356.0,266.1 359.2,266.6 360.3,267.1 364.3,267.6 357.4,268.1 361.0,268.6 357.7,269.1 362.3,269.6 359.4,270.1 359.9,270.6 359.0,271.1 368.3,271.6 359.7,272.1 360.3,272.6 357.0,273.1 354.9,273.6 358.5,274.1 359.4,274.6 355.4,275.1 354.9,275.6 354.9,276.1 355.5,276.6 354.9,277.1 354.9,277.6 355.4,278.1 357.9,278.6 355.2,279.1 354.9,279.6 358.8,280.1 355.0,280.6 356.5,281.1 356.1,281.6 354.9,282.1 355.2,282.6 356.2,283.1 356.2,283.6 355.9,284.1 355.6,284.6 356.1,285.1 356.5,285.6 358.3,286.1 356.6,286.6 356.8,287.1 358.2,287.6 356.5,288.1 356.5,288.6 355.1,289.1 357.7,289.6 355.6,290.1 356.2,290.6 354.9,291.1 356.7,291.6 355.8,292.1 355.5,292.6 355.1,293.1 355.4,293.6 355.2,294.1 356.9,294.6 356.4,295.1 355.1,295.6 355.4,296.1 356.0,296.6 355.6,297.1 360.5,297.6 358.6,298.1 355.4,298.6 356.4,299.1 355.4,299.6 354.9,300.1 354.9,300.6 355.1,301.1 354.9,301.6 357.1,302.1 354.9,302.6 354.9,303.1 354.9,303.6 357.9,304.1 354.9,304.6 354.9,305.1 360.8,305.6 354.9,306.1 356.4,306.6 356.4,307.1 354.9,307.6 358.8,308.1 355.9,308.6 357.5,309.1 358.0,309.6 356.4,310.1 357.1,310.6 354.9,311.1 355.9,311.6 355.9,312.1 354.9,312.6 355.7,313.1 356.0,313.6 355.3,314.1 356.6,314.6 355.2,315.1 355.2,315.6 356.0,316.1 356.6,316.6 361.7,317.1 357.3,317.6 357.2,318.1 357.4,318.6 356.3,319.1 361.6,319.6 357.5,320.1 360.2,320.6 367.5,321.1 360.8,321.6 359.1,322.1 355.3,322.6 355.7,323.1 360.2,323.6 361.1,324.1 357.1,324.6 361.5,325.1 365.4,325.6 359.5,326.1 361.3,326.6 359.0,327.1 356.8,327.6 357.8,328.1 357.1,328.6 360.2,329.1 360.1,329.6 356.9,330.1 357.4,330.6 356.1,331.1 352.7,331.1 352.7,330.6 352.7,330.1 352.7,329.6 352.7,329.1 352.3,328.6 352.0,328.1 351.8,327.6 352.7,327.1 352.7,326.6 352.7,326.1 352.7,325.6 352.7,325.1 352.7,324.6 352.5,324.1 349.8,323.6 351.6,323.1 349.9,322.6 351.3,322.1 352.7,321.6 351.3,321.1 352.7,320.6 352.7,320.1 352.7,319.6 352.7,319.1 352.7,318.6 352.7,318.1 351.8,317.6 352.2,317.1 352.7,316.6 352.4,316.1 352.7,315.6 351.6,315.1 352.4,314.6 350.8,314.1 352.7,313.6 348.2,313.1 350.5,312.6 351.2,312.1 352.7,311.6 352.7,311.1 352.3,310.6 352.7,310.1 351.1,309.6 352.7,309.1 350.9,308.6 350.9,308.1 350.3,307.6 352.7,307.1 352.7,306.6 351.3,306.1 352.7,305.6 352.3,305.1 351.2,304.6 348.9,304.1 352.6,303.6 346.0,303.1 349.5,302.6 349.6,302.1 351.5,301.6 350.9,301.1 351.2,300.6 350.9,300.1 351.1,299.6 352.4,299.1 350.1,298.6 351.6,298.1 350.9,297.6 351.5,297.1 352.7,296.6 352.7,296.1 352.2,295.6 352.7,295.1 351.0,294.6 352.7,294.1 352.7,293.6 352.7,293.1 352.3,292.6 352.7,292.1 352.7,291.6 352.0,291.1 352.7,290.6 348.0,290.1 346.9,289.6 350.7,289.1 352.7,288.6 351.3,288.1 347.7,287.6 351.4,287.1 351.5,286.6 350.6,286.1 343.7,285.6 352.1,285.1 352.7,284.6 352.7,284.1 352.7,283.6 352.7,283.1 349.4,282.6 345.9,282.1 352.7,281.6 352.7,281.1 352.5,280.6 351.9,280.1 348.3,279.6 347.2,279.1 345.7,278.6 349.0,278.1 348.5,277.6 348.9,277.1 350.7,276.6 347.8,276.1 351.5,275.6 351.3,275.1 351.4,274.6 350.7,274.1 349.7,273.6 349.8,273.1 352.7,272.6 352.7,272.1 352.7,271.6 352.7,271.1 352.7,270.6 352.7,270.1 352.7,269.6 352.7,269.1 352.7,268.6 352.7,268.1 352.7,267.6 352.7,267.1 352.7,266.6 352.7,266.1 352.7,265.6 352.7,265.1 352.5,264.6 352.7,264.1 352.7,263.6 351.1,263.1 352.7,262.6 351.0,262.1 352.7,261.6 352.7,261.1 352.7,260.6 352.7,260.1 352.7,259.6 352.7,259.1 352.7,258.6 352.7,258.1 352.7,257.6 350.3,257.1 352.7,256.6 352.7,256.1 351.1,255.6 352.4,255.1 352.7,254.6 352.7,254.1 352.7,253.6 349.2,253.1 352.6,252.6 352.7,252.1 352.2,251.6 352.2,251.1 352.2,250.6 352.7,250.1 352.7,249.6 351.9,249.1 348.0,248.6 352.0,248.1 351.5,247.6 352.7,247.1 352.7,246.6 352.3,246.1 352.1,245.6 349.5,245.1 352.7,244.6 351.2,244.1 350.7,243.6 349.3,243.1 350.7,242.6 351.8,242.1 351.3,241.6 352.7,241.1 352.7,240.6 352.7,240.1 352.3,239.6 352.7,239.1 352.7,238.6 352.7,238.1 352.7,237.6 351.5,237.1 352.7,236.6 352.7,236.1 352.7,235.6 352.7,235.1 352.7,234.6 352.7,234.1 352.7,233.6 352.5,233.1 352.7,232.6 352.7,232.1 352.7,231.6 352.7,231.1 352.7,230.6 352.7,230.1 352.7,229.6 352.7,229.1 352.7,228.6 352.7,228.1 352.7,227.6 352.7,227.1 352.7,226.6 352.7,226.1 352.7,225.6 352.7,225.1 352.7,224.6 352.7,224.1 352.1,223.6 352.1,223.1 352.7,222.6 352.4,222.1 352.7,221.6 352.6,221.1 352.7,220.6 352.3,220.1 352.7,219.6 352.7,219.1 352.6,218.6 352.3,218.1 352.7,217.6 352.7,217.1 352.7,216.6 351.4,216.1 352.7,215.6 352.7,215.1 352.7,214.6" fill="#0a0a0a" stroke="#0a0a0a" stroke-width="0.3"/>
<line x1="355" y1="220.7" x2="371" y2="220.7" stroke="#555" stroke-width="1.0"/>
<line x1="334" y1="269" x2="353" y2="269" stroke="#555" stroke-width="1.0"/>
<line x1="355" y1="228.5" x2="365" y2="228.5" stroke="#111" stroke-width="0.8"/>
<line x1="355" y1="270.5" x2="369" y2="270.5" stroke="#111" stroke-width="0.8"/>
<line x1="355" y1="321" x2="367" y2="321" stroke="#111" stroke-width="0.8"/>
<line x1="345" y1="288" x2="353" y2="288" stroke="#111" stroke-width="0.7"/>
<rect x="315" y="213.8" width="79.30" height="118.70" fill="none" stroke="#111" stroke-width="1.4"/>
<rect x="413.8" y="213" width="5.80" height="119.50" fill="#fff" stroke="#777" stroke-width="0.55"/>
<rect x="413.8" y="216.45" width="5.80" height="1.80" fill="#000"/>
<rect x="413.8" y="223.95" width="5.80" height="0.90" fill="#333"/>
<rect x="413.8" y="229.25" width="5.80" height="6.10" fill="#000"/>
<rect x="413.8" y="236.75" width="5.80" height="3.50" fill="#000"/>
<rect x="413.8" y="245.25" width="5.80" height="4.70" fill="#000"/>
<rect x="413.8" y="256.35" width="5.80" height="3.25" fill="#000"/>
<rect x="413.8" y="259.6" width="5.80" height="4.00" fill="#000"/>
<path d="M414.50,263.6L416.99,260.00L418.73,260.00L416.41,263.6Z" fill="#fff"/>
<rect x="413.8" y="263.6" width="5.80" height="3.45" fill="#000"/>
<rect x="413.8" y="267.05" width="5.80" height="0.95" fill="#777"/>
<rect x="413.8" y="268.0" width="5.80" height="2.95" fill="#000"/>
<rect x="413.8" y="275.05" width="5.80" height="1.10" fill="#000"/>
<rect x="413.8" y="279.15" width="5.80" height="1.90" fill="#888"/>
<rect x="413.8" y="284.25" width="5.80" height="4.60" fill="#000"/>
<rect x="413.8" y="288.85" width="5.80" height="0.90" fill="#777"/>
<rect x="413.8" y="289.75" width="5.80" height="4.60" fill="#000"/>
<rect x="413.8" y="296.85" width="5.80" height="3.70" fill="#000"/>
<rect x="413.8" y="300.55" width="5.80" height="1.10" fill="#666"/>
<rect x="413.8" y="301.65" width="5.80" height="4.20" fill="#000"/>
<rect x="413.8" y="310.25" width="5.80" height="1.60" fill="#888"/>
<rect x="413.8" y="321.45" width="5.80" height="4.60" fill="#000"/>
<text x="478.00" y="201.20" font-size="11" text-anchor="middle" font-weight="bold" font-style="normal" fill="#0a0a0a" stroke="#0a0a0a" stroke-width="0.3" >Chr 11 LOH</text>
<text x="441.00" y="211.70" font-size="8" text-anchor="middle" font-weight="bold" font-style="normal" fill="#0a0a0a" stroke="#0a0a0a" stroke-width="0.22" >0</text>
<text x="472.20" y="211.70" font-size="8" text-anchor="middle" font-weight="bold" font-style="normal" fill="#0a0a0a" stroke="#0a0a0a" stroke-width="0.22" >20</text>
<text x="502.60" y="211.70" font-size="8" text-anchor="middle" font-weight="bold" font-style="normal" fill="#0a0a0a" stroke="#0a0a0a" stroke-width="0.22" >40</text>
<rect x="439.7" y="214.5" width="78.60" height="117.70" fill="#c9c9c9"/>
<path d="M439.7,215.0H443.4V219.6H439.7ZM439.7,219.6H442.5V223.1H439.7ZM439.7,223.1H449.6V225.4H439.7ZM439.7,225.4H446.2V227.7H439.7ZM439.7,227.7H448.5V231.2H439.7ZM439.7,231.2H445.0V234.6H439.7ZM439.7,234.6H446.2V236.9H439.7ZM439.7,236.9H443.8V240.4H439.7ZM439.7,240.4H446.2V242.7H439.7ZM439.7,242.7H443.8V244.5H439.7ZM439.7,244.5H450.8V246.2H439.7ZM439.7,246.2H445.0V249.6H439.7ZM439.7,249.6H447.3V253.1H439.7ZM439.7,253.1H445.0V255.4H439.7ZM439.7,255.4H451.9V257.7H439.7ZM439.7,257.7H443.8V262.3H439.7ZM439.7,262.3H442.9V265.8H439.7ZM439.7,265.8H450.8V271.5H439.7ZM439.7,271.5H456.5V277.3H439.7ZM439.7,277.3H461.9V280.8H439.7ZM439.7,280.8H455.4V284.2H439.7ZM439.7,284.2H449.6V287.7H439.7ZM439.7,287.7H476.2V293.5H439.7ZM439.7,293.5H455.4V297.6H439.7ZM439.7,297.6H449.6V300.4H439.7ZM439.7,300.4H455.4V303.9H439.7ZM439.7,303.9H458.9V307.3H439.7ZM439.7,307.3H465.8V311.5H439.7ZM439.7,311.5H472.0V316.5H439.7ZM439.7,316.5H484.2V323.5H439.7ZM439.7,323.5H469.2V328.1H439.7ZM439.7,328.1H451.9V330.9H439.7ZM439.7,330.9H448.5V332.0H439.7Z" fill="#000"/>
<rect x="439.7" y="214.5" width="78.60" height="117.70" fill="none" stroke="#111" stroke-width="1.3"/>
<text x="412.00" y="355.50" font-size="11" text-anchor="middle" font-weight="bold" font-style="normal" fill="#0a0a0a" stroke="#0a0a0a" stroke-width="0.3" >UPN 5 granulocytes</text>
<text x="64.50" y="389.60" font-size="11" text-anchor="middle" font-weight="bold" font-style="normal" fill="#0a0a0a" stroke="#0a0a0a" stroke-width="0.3" >Chr 1 CN</text>
<text x="27.00" y="402.00" font-size="8" text-anchor="middle" font-weight="bold" font-style="normal" fill="#0a0a0a" stroke="#0a0a0a" stroke-width="0.22" >-1</text>
<text x="52.00" y="402.00" font-size="8" text-anchor="middle" font-weight="bold" font-style="normal" fill="#0a0a0a" stroke="#0a0a0a" stroke-width="0.22" >0</text>
<text x="76.30" y="402.00" font-size="8" text-anchor="middle" font-weight="bold" font-style="normal" fill="#0a0a0a" stroke="#0a0a0a" stroke-width="0.22" >+1</text>
<rect x="25.5" y="404" width="78.00" height="159.00" fill="#c9c9c9"/>
<line x1="78.5" y1="404" x2="78.5" y2="563" stroke="#2a2a2a" stroke-width="0.8"/>
<polygon points="59.1,404.8 62.2,405.3 58.4,405.8 59.3,406.3 64.1,406.8 60.7,407.3 60.5,407.8 67.4,408.3 58.8,408.8 62.0,409.3 63.5,409.8 57.5,410.3 58.0,410.8 87.8,411.3 58.8,411.8 61.6,412.3 61.2,412.8 55.8,413.3 58.9,413.8 59.8,414.3 79.2,414.8 68.3,415.3 71.5,415.8 72.2,416.3 71.5,416.8 65.1,417.3 58.9,417.8 58.2,418.3 55.3,418.8 55.2,419.3 54.6,419.8 54.5,420.3 55.0,420.8 55.1,421.3 56.1,421.8 55.8,422.3 58.8,422.8 56.5,423.3 55.9,423.8 54.6,424.3 57.3,424.8 55.8,425.3 55.1,425.8 56.6,426.3 58.8,426.8 58.7,427.3 69.0,427.8 56.8,428.3 59.0,428.8 55.1,429.3 65.1,429.8 67.5,430.3 61.5,430.8 60.1,431.3 57.4,431.8 68.6,432.3 58.7,432.8 60.9,433.3 55.1,433.8 57.4,434.3 58.9,434.8 59.7,435.3 57.6,435.8 59.2,436.3 56.2,436.8 57.6,437.3 56.0,437.8 56.5,438.3 57.2,438.8 54.4,439.3 54.0,439.8 54.0,440.3 54.3,440.8 55.8,441.3 55.7,441.8 57.0,442.3 58.8,442.8 54.4,443.3 53.4,443.8 53.7,444.3 53.4,444.8 54.0,445.3 53.7,445.8 54.1,446.3 57.4,446.8 55.1,447.3 55.6,447.8 54.2,448.3 54.5,448.8 53.5,449.3 53.4,449.8 54.6,450.3 59.7,450.8 53.4,451.3 55.0,451.8 53.4,452.3 54.3,452.8 56.5,453.3 54.7,453.8 60.1,454.3 59.1,454.8 57.0,455.3 54.4,455.8 58.0,456.3 60.4,456.8 54.8,457.3 53.7,457.8 53.4,458.3 53.4,458.8 53.4,459.3 53.8,459.8 53.4,460.3 53.4,460.8 53.4,461.3 53.4,461.8 55.6,462.3 54.4,462.8 54.4,463.3 53.4,463.8 54.1,464.3 54.7,464.8 54.0,465.3 55.0,465.8 55.8,466.3 55.7,466.8 55.5,467.3 54.0,467.8 56.3,468.3 53.4,468.8 54.0,469.3 53.4,469.8 53.4,470.3 53.5,470.8 53.4,471.3 53.4,471.8 53.4,472.3 53.4,472.8 54.6,473.3 53.4,473.8 55.4,474.3 53.4,474.8 57.9,475.3 54.2,475.8 54.6,476.3 55.4,476.8 58.3,477.3 54.6,477.8 53.4,478.3 58.2,478.8 54.2,479.3 53.6,479.8 53.7,480.3 56.0,480.8 56.3,481.3 53.4,481.8 53.4,482.3 53.4,482.8 53.4,483.3 54.7,483.8 54.9,484.3 54.1,484.8 55.7,485.3 57.6,485.8 53.8,486.3 53.6,486.8 53.4,487.3 57.8,487.8 56.0,488.3 53.6,488.8 62.4,489.3 56.2,489.8 56.1,490.3 57.4,490.8 58.1,491.3 53.4,491.8 54.4,492.3 53.9,492.8 54.8,493.3 59.7,493.8 55.2,494.3 56.9,494.8 53.4,495.3 56.0,495.8 57.5,496.3 55.4,496.8 56.7,497.3 56.6,497.8 56.1,498.3 56.7,498.8 62.6,499.3 61.5,499.8 53.7,500.3 61.8,500.8 54.3,501.3 53.5,501.8 56.5,502.3 55.9,502.8 54.3,503.3 54.9,503.8 54.1,504.3 53.4,504.8 55.2,505.3 53.4,505.8 54.0,506.3 62.1,506.8 55.4,507.3 53.5,507.8 53.4,508.3 55.5,508.8 56.5,509.3 55.8,509.8 55.0,510.3 53.9,510.8 54.1,511.3 56.2,511.8 56.9,512.3 54.4,512.8 55.3,513.3 53.9,513.8 53.7,514.3 54.2,514.8 54.6,515.3 55.2,515.8 58.2,516.3 65.5,516.8 58.1,517.3 57.9,517.8 59.2,518.3 55.6,518.8 55.1,519.3 59.4,519.8 55.2,520.3 53.7,520.8 55.7,521.3 55.4,521.8 62.3,522.3 56.5,522.8 53.4,523.3 55.6,523.8 54.4,524.3 54.0,524.8 54.5,525.3 55.4,525.8 54.7,526.3 54.4,526.8 56.3,527.3 54.7,527.8 55.2,528.3 56.7,528.8 55.4,529.3 57.6,529.8 62.5,530.3 55.5,530.8 58.0,531.3 55.2,531.8 53.5,532.3 53.4,532.8 54.4,533.3 56.9,533.8 56.9,534.3 55.5,534.8 54.8,535.3 53.6,535.8 53.9,536.3 54.6,536.8 59.9,537.3 53.6,537.8 57.5,538.3 56.5,538.8 55.6,539.3 55.0,539.8 56.3,540.3 54.9,540.8 54.6,541.3 58.6,541.8 68.6,542.3 56.3,542.8 54.7,543.3 58.5,543.8 60.9,544.3 56.3,544.8 57.7,545.3 64.8,545.8 58.1,546.3 55.4,546.8 62.6,547.3 54.7,547.8 53.4,548.3 55.0,548.8 55.7,549.3 56.0,549.8 53.5,550.3 53.4,550.8 55.5,551.3 53.4,551.8 55.4,552.3 54.7,552.8 58.3,553.3 53.4,553.8 57.3,554.3 57.3,554.8 62.5,555.3 53.6,555.8 53.4,556.3 53.4,556.8 53.4,557.3 55.8,557.8 54.3,558.3 55.8,558.8 57.4,559.3 56.8,559.8 57.2,560.3 56.5,560.8 56.3,561.3 56.0,561.8 51.2,561.8 51.2,561.3 51.2,560.8 51.2,560.3 51.2,559.8 49.4,559.3 51.2,558.8 51.2,558.3 51.2,557.8 41.9,557.3 50.8,556.8 51.2,556.3 51.2,555.8 51.0,555.3 50.4,554.8 49.0,554.3 40.3,553.8 50.5,553.3 49.7,552.8 47.2,552.3 51.2,551.8 48.6,551.3 49.8,550.8 51.2,550.3 51.2,549.8 51.2,549.3 51.2,548.8 51.2,548.3 50.9,547.8 50.9,547.3 50.1,546.8 50.2,546.3 50.9,545.8 49.2,545.3 51.0,544.8 50.4,544.3 50.2,543.8 51.2,543.3 44.2,542.8 51.2,542.3 51.0,541.8 49.5,541.3 51.2,540.8 50.6,540.3 49.0,539.8 51.2,539.3 46.9,538.8 50.8,538.3 51.2,537.8 50.9,537.3 51.2,536.8 50.6,536.3 49.6,535.8 45.9,535.3 50.3,534.8 42.9,534.3 49.3,533.8 50.6,533.3 51.0,532.8 51.2,532.3 43.6,531.8 46.0,531.3 45.0,530.8 48.3,530.3 48.0,529.8 51.2,529.3 49.3,528.8 49.8,528.3 48.9,527.8 45.1,527.3 49.3,526.8 47.8,526.3 51.2,525.8 51.1,525.3 49.0,524.8 49.1,524.3 51.0,523.8 48.4,523.3 49.0,522.8 50.1,522.3 43.7,521.8 51.1,521.3 50.7,520.8 51.2,520.3 47.1,519.8 51.2,519.3 42.6,518.8 51.2,518.3 51.0,517.8 51.2,517.3 51.2,516.8 51.2,516.3 48.1,515.8 51.2,515.3 50.1,514.8 48.1,514.3 46.5,513.8 51.2,513.3 51.2,512.8 48.1,512.3 51.2,511.8 44.1,511.3 44.3,510.8 48.7,510.3 48.7,509.8 42.5,509.3 48.4,508.8 48.9,508.3 46.7,507.8 49.9,507.3 51.2,506.8 50.2,506.3 44.6,505.8 45.1,505.3 47.5,504.8 47.8,504.3 50.7,503.8 51.2,503.3 51.2,502.8 50.2,502.3 48.8,501.8 51.2,501.3 49.8,500.8 49.4,500.3 51.2,499.8 50.6,499.3 51.2,498.8 51.2,498.3 51.2,497.8 51.2,497.3 51.1,496.8 51.2,496.3 50.3,495.8 48.9,495.3 48.2,494.8 51.2,494.3 51.2,493.8 48.3,493.3 50.8,492.8 45.6,492.3 50.9,491.8 51.2,491.3 51.2,490.8 51.2,490.3 49.8,489.8 51.2,489.3 47.6,488.8 50.1,488.3 51.0,487.8 51.1,487.3 51.2,486.8 47.6,486.3 51.0,485.8 51.2,485.3 50.7,484.8 50.8,484.3 50.2,483.8 51.1,483.3 49.9,482.8 47.2,482.3 43.1,481.8 51.2,481.3 51.2,480.8 51.2,480.3 50.7,479.8 51.2,479.3 51.2,478.8 44.5,478.3 48.4,477.8 51.2,477.3 50.6,476.8 50.0,476.3 47.8,475.8 51.2,475.3 51.2,474.8 51.2,474.3 51.2,473.8 50.7,473.3 49.9,472.8 48.9,472.3 50.9,471.8 50.5,471.3 50.3,470.8 49.3,470.3 47.3,469.8 49.3,469.3 50.4,468.8 50.4,468.3 51.2,467.8 49.5,467.3 49.5,466.8 51.1,466.3 51.2,465.8 51.2,465.3 51.2,464.8 50.2,464.3 46.3,463.8 45.8,463.3 49.0,462.8 49.5,462.3 47.8,461.8 50.1,461.3 48.8,460.8 49.7,460.3 50.7,459.8 49.7,459.3 49.6,458.8 50.4,458.3 51.0,457.8 51.2,457.3 49.8,456.8 49.5,456.3 49.3,455.8 50.0,455.3 51.2,454.8 51.2,454.3 51.2,453.8 51.2,453.3 51.2,452.8 51.2,452.3 51.0,451.8 50.4,451.3 50.0,450.8 50.9,450.3 51.2,449.8 50.4,449.3 48.7,448.8 50.7,448.3 51.2,447.8 46.9,447.3 51.2,446.8 49.1,446.3 51.2,445.8 51.2,445.3 48.9,444.8 51.1,444.3 51.2,443.8 50.0,443.3 51.2,442.8 48.2,442.3 51.2,441.8 51.2,441.3 51.2,440.8 49.9,440.3 50.4,439.8 50.9,439.3 51.2,438.8 51.2,438.3 51.2,437.8 49.5,437.3 51.2,436.8 51.2,436.3 51.2,435.8 51.2,435.3 50.7,434.8 51.2,434.3 47.2,433.8 51.2,433.3 51.2,432.8 48.6,432.3 51.2,431.8 51.2,431.3 48.7,430.8 51.2,430.3 51.2,429.8 51.2,429.3 49.9,428.8 51.2,428.3 51.2,427.8 51.2,427.3 51.2,426.8 51.2,426.3 51.2,425.8 51.2,425.3 48.1,424.8 51.2,424.3 51.2,423.8 51.2,423.3 51.2,422.8 51.2,422.3 51.2,421.8 51.2,421.3 51.2,420.8 51.2,420.3 51.2,419.8 51.2,419.3 51.2,418.8 51.2,418.3 51.2,417.8 51.2,417.3 51.2,416.8 50.8,416.3 51.2,415.8 51.2,415.3 51.2,414.8 51.2,414.3 51.2,413.8 51.2,413.3 47.7,412.8 51.2,412.3 51.2,411.8 51.2,411.3 51.2,410.8 51.2,410.3 51.2,409.8 45.3,409.3 51.2,408.8 51.2,408.3 51.2,407.8 47.9,407.3 48.4,406.8 43.7,406.3 46.4,405.8 51.2,405.3 49.6,404.8" fill="#0a0a0a" stroke="#0a0a0a" stroke-width="0.3"/>
<line x1="53" y1="406.5" x2="80" y2="406.5" stroke="#111" stroke-width="1.2"/>
<line x1="53" y1="409" x2="81" y2="409" stroke="#555" stroke-width="1.0"/>
<line x1="53" y1="411.5" x2="76" y2="411.5" stroke="#111" stroke-width="0.9"/>
<line x1="40" y1="547.5" x2="52" y2="547.5" stroke="#111" stroke-width="0.9"/>
<line x1="53" y1="533" x2="66" y2="533" stroke="#111" stroke-width="0.8"/>
<line x1="53" y1="513" x2="64" y2="513" stroke="#111" stroke-width="0.8"/>
<rect x="25.5" y="404" width="78.00" height="159.00" fill="none" stroke="#111" stroke-width="1.7"/>
<rect x="125.9" y="404.6" width="6.90" height="159.40" fill="#fff" stroke="#777" stroke-width="0.55"/>
<rect x="125.9" y="407.6" width="6.90" height="1.10" fill="#666"/>
<rect x="125.9" y="409.5" width="6.90" height="1.70" fill="#333"/>
<rect x="125.9" y="414" width="6.90" height="0.50" fill="#777"/>
<rect x="125.9" y="417.3" width="6.90" height="3.90" fill="#000"/>
<rect x="125.9" y="422.9" width="6.90" height="2.20" fill="#000"/>
<rect x="125.9" y="426.8" width="6.90" height="3.30" fill="#000"/>
<rect x="125.9" y="433.5" width="6.90" height="0.60" fill="#777"/>
<rect x="125.9" y="435.1" width="6.90" height="6.70" fill="#000"/>
<rect x="125.9" y="441.8" width="6.90" height="1.20" fill="#555"/>
<rect x="125.9" y="443" width="6.90" height="8.90" fill="#000"/>
<rect x="125.9" y="456.3" width="6.90" height="1.70" fill="#000"/>
<rect x="125.9" y="461.9" width="6.90" height="2.20" fill="#000"/>
<rect x="125.9" y="464.1" width="6.90" height="0.60" fill="#666"/>
<rect x="125.9" y="464.7" width="6.90" height="5.00" fill="#000"/>
<rect x="125.9" y="474.2" width="6.90" height="0.80" fill="#444"/>
<rect x="125.9" y="477" width="6.90" height="1.10" fill="#000"/>
<rect x="125.9" y="478.6" width="6.90" height="5.00" fill="#000"/>
<path d="M126.73,483.6L129.70,479.10L131.77,479.10L129.00,483.6Z" fill="#fff"/>
<rect x="125.9" y="483.6" width="6.90" height="14.10" fill="#c4c4c4"/>
<rect x="125.9" y="497.7" width="6.90" height="3.00" fill="#000"/>
<rect x="125.9" y="503.6" width="6.90" height="3.60" fill="#000"/>
<rect x="125.9" y="508.3" width="6.90" height="1.80" fill="#000"/>
<rect x="125.9" y="511.9" width="6.90" height="4.10" fill="#000"/>
<rect x="125.9" y="517.8" width="6.90" height="1.20" fill="#000"/>
<rect x="125.9" y="520.7" width="6.90" height="7.70" fill="#000"/>
<rect x="125.9" y="528.4" width="6.90" height="1.00" fill="#555"/>
<rect x="125.9" y="529.4" width="6.90" height="4.30" fill="#000"/>
<rect x="125.9" y="541.4" width="6.90" height="1.80" fill="#000"/>
<rect x="125.9" y="545" width="6.90" height="7.00" fill="#000"/>
<rect x="125.9" y="553.2" width="6.90" height="1.40" fill="#444"/>
<rect x="125.9" y="556.2" width="6.90" height="4.10" fill="#000"/>
<text x="197.00" y="389.60" font-size="11" text-anchor="middle" font-weight="bold" font-style="normal" fill="#0a0a0a" stroke="#0a0a0a" stroke-width="0.3" >Chr 1 LOH</text>
<text x="157.70" y="402.00" font-size="8" text-anchor="middle" font-weight="bold" font-style="normal" fill="#0a0a0a" stroke="#0a0a0a" stroke-width="0.22" >0</text>
<text x="188.50" y="402.00" font-size="8" text-anchor="middle" font-weight="bold" font-style="normal" fill="#0a0a0a" stroke="#0a0a0a" stroke-width="0.22" >20</text>
<text x="219.00" y="402.00" font-size="8" text-anchor="middle" font-weight="bold" font-style="normal" fill="#0a0a0a" stroke="#0a0a0a" stroke-width="0.22" >40</text>
<rect x="156.7" y="405.9" width="76.90" height="156.90" fill="#c9c9c9"/>
<path d="M156.7,405.7H163.8V408.8H156.7ZM156.7,408.8H173.4V411.4H156.7ZM156.7,411.4H186.9V415.8H156.7ZM156.7,415.8H173.9V419.2H156.7ZM156.7,419.2H164.7V421.0H156.7ZM156.7,421.0H178.5V424.8H156.7ZM156.7,424.8H165.2V426.1H156.7ZM156.7,426.1H172.1V428.7H156.7ZM156.7,428.7H163.8V429.8H156.7ZM156.7,429.8H171.6V431.7H156.7ZM156.7,431.7H163.5V433.4H156.7ZM156.7,433.4H169.0V435.1H156.7ZM156.7,435.1H226.1V443.1H156.7ZM156.7,443.1H167.3V445.5H156.7ZM156.7,445.5H176.0V448.6H156.7ZM156.7,448.6H164.2V450.7H156.7ZM156.7,450.7H163.8V451.6H156.7ZM156.7,451.6H168.2V453.1H156.7ZM156.7,453.1H174.2V456.4H156.7ZM156.7,456.4H165.6V459.4H156.7ZM156.7,459.4H182.5V463.3H156.7ZM156.7,463.3H173.4V466.3H156.7ZM156.7,466.3H167.3V468.5H156.7ZM156.7,468.5H163.5V471.1H156.7ZM156.7,471.1H161.1V472.5H156.7ZM156.7,472.5H162.1V474.6H156.7ZM156.7,474.6H159.6V475.9H156.7ZM156.7,475.9H159.6V477.2H156.7ZM156.7,477.2H159.5V479.3H156.7ZM156.7,479.3H159.6V481.2H156.7ZM156.7,481.2H160.1V482.7H156.7ZM156.7,482.7H160.8V485.0H156.7ZM156.7,485.0H159.7V486.0H156.7ZM156.7,486.0H162.2V487.3H156.7ZM156.7,487.3H161.8V489.6H156.7ZM156.7,489.6H161.5V491.9H156.7ZM156.7,491.9H161.7V494.4H156.7ZM156.7,494.4H162.1V495.8H156.7ZM156.7,495.8H161.5V497.6H156.7ZM156.7,497.6H160.1V499.5H156.7ZM156.7,499.5H160.1V501.1H156.7ZM156.7,501.1H159.5V502.6H156.7ZM156.7,502.6H161.8V504.9H156.7ZM156.7,504.9H161.2V507.5H156.7ZM156.7,507.5H161.5V509.3H156.7ZM156.7,509.3H161.1V510.6H156.7ZM156.7,510.6H159.5V512.3H156.7ZM156.7,512.3H160.4V513.6H156.7ZM156.7,513.6H160.2V515.0H156.7ZM156.7,515.0H160.0V517.0H156.7ZM156.7,517.0H160.3V518.2H156.7ZM156.7,518.2H159.6V519.6H156.7ZM156.7,519.6H159.9V520.9H156.7ZM156.7,520.9H161.0V522.0H156.7ZM156.7,522.0H160.0V524.5H156.7ZM156.7,524.5H162.6V526.7H156.7ZM156.7,526.7H159.5V527.7H156.7ZM156.7,527.7H162.0V530.0H156.7ZM156.7,530.0H159.5V532.0H156.7ZM156.7,532.0H162.2V533.7H156.7ZM156.7,533.7H161.8V536.1H156.7ZM156.7,536.1H162.1V537.4H156.7ZM156.7,537.4H161.3V539.0H156.7ZM156.7,539.0H162.9V540.3H156.7ZM156.7,540.3H161.3V542.2H156.7ZM156.7,542.2H160.8V543.6H156.7ZM156.7,543.6H160.7V545.5H156.7ZM156.7,545.5H161.4V547.1H156.7ZM156.7,547.1H159.7V548.6H156.7ZM156.7,548.6H161.1V549.9H156.7ZM156.7,549.9H159.6V551.1H156.7ZM156.7,551.1H160.9V552.2H156.7ZM156.7,552.2H160.5V554.1H156.7ZM156.7,554.1H160.1V555.1H156.7ZM156.7,555.1H159.4V556.7H156.7ZM156.7,556.7H163.1V557.7H156.7ZM156.7,557.7H159.7V558.9H156.7ZM156.7,558.9H160.7V560.3H156.7ZM156.7,560.3H160.2V561.4H156.7ZM156.7,561.4H162.0V562.5H156.7ZM156.7,491.6H167.6V494.1H156.7ZM156.7,494.1H165.0V496.7H156.7ZM156.7,507.9H165.0V513.1H156.7ZM156.7,514.3H164.2V516.9H156.7ZM156.7,522.0H163.7V524.6H156.7ZM156.7,543.8H166.8V547.6H156.7ZM156.7,547.6H164.2V549.4H156.7Z" fill="#000"/>
<rect x="156.7" y="405.9" width="76.90" height="156.90" fill="none" stroke="#111" stroke-width="1.3"/>
<text x="132.50" y="587.60" font-size="11" text-anchor="middle" font-weight="bold" font-style="normal" fill="#0a0a0a" stroke="#0a0a0a" stroke-width="0.3" >UPN 27</text>
<text x="64.50" y="621.30" font-size="11" text-anchor="middle" font-weight="bold" font-style="normal" fill="#0a0a0a" stroke="#0a0a0a" stroke-width="0.3" >Chr 13 CN</text>
<text x="42.50" y="633.80" font-size="8" text-anchor="middle" font-weight="bold" font-style="normal" fill="#0a0a0a" stroke="#0a0a0a" stroke-width="0.22" >-1</text>
<text x="57.20" y="633.80" font-size="8" text-anchor="middle" font-weight="bold" font-style="normal" fill="#0a0a0a" stroke="#0a0a0a" stroke-width="0.22" >0</text>
<text x="73.50" y="633.80" font-size="8" text-anchor="middle" font-weight="bold" font-style="normal" fill="#0a0a0a" stroke="#0a0a0a" stroke-width="0.22" >+1</text>
<rect x="26" y="635.8" width="76.80" height="105.00" fill="#d3d3d3"/>
<line x1="41.5" y1="635.8" x2="41.5" y2="740.8" stroke="#666" stroke-width="0.8"/>
<line x1="72.5" y1="635.8" x2="72.5" y2="740.8" stroke="#666" stroke-width="0.8"/>
<line x1="88.5" y1="635.8" x2="88.5" y2="740.8" stroke="#666" stroke-width="0.8"/>
<polygon points="65.7,636.6 72.6,637.1 68.8,637.6 65.9,638.1 73.1,638.6 76.8,639.1 74.6,639.6 67.0,640.1 67.0,640.6 62.6,641.1 65.8,641.6 65.5,642.1 67.0,642.6 63.1,643.1 70.8,643.6 61.6,644.1 64.3,644.6 68.3,645.1 62.5,645.6 64.2,646.1 61.6,646.6 64.7,647.1 63.7,647.6 61.9,648.1 60.5,648.6 60.3,649.1 66.0,649.6 80.7,650.1 68.9,650.6 71.1,651.1 66.4,651.6 74.5,652.1 60.0,652.6 65.8,653.1 65.5,653.6 67.6,654.1 59.8,654.6 61.1,655.1 63.8,655.6 60.7,656.1 60.6,656.6 61.7,657.1 65.2,657.6 65.4,658.1 63.7,658.6 60.0,659.1 77.7,659.6 68.0,660.1 65.7,660.6 70.7,661.1 66.2,661.6 70.0,662.1 66.0,662.6 62.9,663.1 73.0,663.6 68.1,664.1 66.4,664.6 61.5,665.1 61.9,665.6 62.7,666.1 63.3,666.6 66.9,667.1 59.5,667.6 66.8,668.1 64.9,668.6 74.9,669.1 66.5,669.6 73.1,670.1 64.6,670.6 66.5,671.1 64.3,671.6 67.2,672.1 64.1,672.6 62.8,673.1 61.5,673.6 60.0,674.1 60.0,674.6 65.4,675.1 68.7,675.6 67.0,676.1 69.5,676.6 64.0,677.1 75.9,677.6 59.4,678.1 60.9,678.6 64.8,679.1 61.0,679.6 61.8,680.1 65.4,680.6 60.5,681.1 66.2,681.6 61.2,682.1 68.1,682.6 76.6,683.1 64.9,683.6 69.5,684.1 64.2,684.6 59.9,685.1 63.9,685.6 60.6,686.1 61.5,686.6 62.1,687.1 60.9,687.6 75.1,688.1 61.6,688.6 61.1,689.1 70.4,689.6 72.0,690.1 60.8,690.6 64.7,691.1 59.6,691.6 60.8,692.1 64.8,692.6 62.4,693.1 68.6,693.6 79.3,694.1 64.8,694.6 67.1,695.1 75.5,695.6 62.5,696.1 60.2,696.6 63.6,697.1 70.2,697.6 63.1,698.1 64.3,698.6 62.3,699.1 69.7,699.6 69.2,700.1 66.0,700.6 63.7,701.1 66.8,701.6 69.0,702.1 63.6,702.6 64.1,703.1 64.1,703.6 74.0,704.1 60.6,704.6 68.2,705.1 63.5,705.6 63.1,706.1 68.7,706.6 61.5,707.1 60.2,707.6 60.6,708.1 66.6,708.6 73.8,709.1 63.1,709.6 60.9,710.1 63.9,710.6 68.2,711.1 66.8,711.6 75.9,712.1 64.6,712.6 71.5,713.1 69.9,713.6 69.5,714.1 74.4,714.6 66.3,715.1 69.0,715.6 68.9,716.1 66.7,716.6 66.9,717.1 64.8,717.6 63.4,718.1 61.6,718.6 59.4,719.1 60.1,719.6 61.1,720.1 60.5,720.6 68.2,721.1 68.8,721.6 69.4,722.1 61.1,722.6 66.3,723.1 63.6,723.6 60.0,724.1 67.8,724.6 62.2,725.1 61.6,725.6 60.4,726.1 62.1,726.6 61.2,727.1 70.8,727.6 62.9,728.1 64.2,728.6 68.2,729.1 61.5,729.6 61.9,730.1 60.5,730.6 60.3,731.1 61.0,731.6 65.8,732.1 60.0,732.6 62.5,733.1 59.3,733.6 62.3,734.1 67.1,734.6 61.3,735.1 58.3,735.6 61.6,736.1 62.0,736.6 59.4,737.1 61.5,737.6 61.9,738.1 64.2,738.6 61.7,739.1 64.5,739.6 51.0,739.6 54.1,739.1 54.4,738.6 51.4,738.1 44.2,737.6 49.7,737.1 55.2,736.6 55.5,736.1 49.6,735.6 50.2,735.1 56.1,734.6 54.5,734.1 55.1,733.6 56.1,733.1 55.2,732.6 56.1,732.1 56.1,731.6 55.4,731.1 56.1,730.6 55.0,730.1 56.1,729.6 54.9,729.1 56.1,728.6 55.7,728.1 55.0,727.6 52.5,727.1 54.1,726.6 47.3,726.1 52.7,725.6 54.6,725.1 55.5,724.6 54.0,724.1 52.3,723.6 53.5,723.1 56.1,722.6 56.1,722.1 56.1,721.6 56.1,721.1 47.8,720.6 56.1,720.1 56.1,719.6 56.1,719.1 56.1,718.6 56.1,718.1 56.1,717.6 56.1,717.1 56.1,716.6 56.1,716.1 55.8,715.6 51.8,715.1 56.1,714.6 55.9,714.1 56.1,713.6 56.1,713.1 56.1,712.6 56.1,712.1 56.1,711.6 56.1,711.1 56.1,710.6 56.1,710.1 56.1,709.6 56.1,709.1 55.9,708.6 56.1,708.1 56.1,707.6 56.1,707.1 56.1,706.6 48.5,706.1 54.7,705.6 56.1,705.1 56.1,704.6 56.1,704.1 56.1,703.6 56.1,703.1 56.1,702.6 56.1,702.1 52.6,701.6 54.0,701.1 56.0,700.6 56.1,700.1 56.1,699.6 50.5,699.1 56.1,698.6 48.6,698.1 56.1,697.6 56.1,697.1 56.1,696.6 54.2,696.1 56.1,695.6 56.1,695.1 56.1,694.6 55.9,694.1 56.1,693.6 56.1,693.1 56.1,692.6 56.1,692.1 56.1,691.6 56.1,691.1 56.1,690.6 51.3,690.1 50.9,689.6 51.2,689.1 56.0,688.6 51.6,688.1 52.7,687.6 53.3,687.1 53.8,686.6 52.2,686.1 56.1,685.6 54.1,685.1 56.1,684.6 52.5,684.1 55.8,683.6 56.1,683.1 56.1,682.6 56.1,682.1 56.1,681.6 56.1,681.1 55.4,680.6 54.6,680.1 56.1,679.6 56.1,679.1 56.1,678.6 49.2,678.1 56.1,677.6 56.1,677.1 53.7,676.6 55.3,676.1 55.1,675.6 53.6,675.1 55.2,674.6 55.9,674.1 53.2,673.6 50.7,673.1 52.0,672.6 52.7,672.1 51.2,671.6 49.3,671.1 51.2,670.6 56.1,670.1 56.1,669.6 53.6,669.1 46.4,668.6 55.9,668.1 56.1,667.6 54.6,667.1 53.3,666.6 56.1,666.1 54.4,665.6 56.1,665.1 56.1,664.6 54.0,664.1 51.8,663.6 55.4,663.1 54.4,662.6 56.1,662.1 56.1,661.6 56.1,661.1 56.1,660.6 56.1,660.1 52.4,659.6 53.9,659.1 55.0,658.6 54.5,658.1 54.9,657.6 55.7,657.1 55.4,656.6 56.1,656.1 54.2,655.6 56.1,655.1 53.2,654.6 54.1,654.1 56.1,653.6 56.1,653.1 56.1,652.6 53.7,652.1 56.1,651.6 56.1,651.1 52.5,650.6 48.2,650.1 51.8,649.6 52.1,649.1 55.1,648.6 56.1,648.1 54.5,647.6 56.1,647.1 55.3,646.6 55.4,646.1 56.1,645.6 56.1,645.1 52.3,644.6 56.1,644.1 55.7,643.6 56.1,643.1 56.1,642.6 55.1,642.1 56.1,641.6 56.1,641.1 56.1,640.6 49.3,640.1 40.4,639.6 56.1,639.1 41.7,638.6 54.9,638.1 56.1,637.6 55.7,637.1 55.9,636.6" fill="#0a0a0a" stroke="#0a0a0a" stroke-width="0.3"/>
<line x1="58" y1="660.5" x2="85" y2="660.5" stroke="#666" stroke-width="1.1"/>
<line x1="58" y1="739.5" x2="90" y2="739.5" stroke="#111" stroke-width="1.6"/>
<line x1="47" y1="637.3" x2="57" y2="637.3" stroke="#111" stroke-width="0.8"/>
<line x1="58" y1="694.5" x2="76" y2="694.5" stroke="#111" stroke-width="0.8"/>
<line x1="58" y1="677.5" x2="74" y2="677.5" stroke="#111" stroke-width="0.7"/>
<rect x="26" y="635.8" width="76.80" height="105.00" fill="none" stroke="#111" stroke-width="1.7"/>
<ellipse cx="129.1" cy="635" rx="3.3" ry="2.8" fill="#bdbdbd" stroke="#555" stroke-width="0.6"/>
<rect x="127.7" y="637.8" width="2.8" height="4.4" fill="#aaa" stroke="#666" stroke-width="0.4"/>
<rect x="126.3" y="642.5" width="6.20" height="97.50" fill="#fff" stroke="#777" stroke-width="0.55"/>
<rect x="126.3" y="642.0" width="6.20" height="8.50" fill="#bdbdbd"/>
<rect x="126.3" y="650.5" width="6.20" height="4.75" fill="#000"/>
<path d="M127.04,655.25L129.71,650.98L131.57,650.98L129.09,655.25Z" fill="#fff"/>
<rect x="126.3" y="657.5" width="6.20" height="0.75" fill="#777"/>
<rect x="126.3" y="660.75" width="6.20" height="1.75" fill="#000"/>
<rect x="126.3" y="667.0" width="6.20" height="3.75" fill="#000"/>
<rect x="126.3" y="674.25" width="6.20" height="0.75" fill="#000"/>
<rect x="126.3" y="676.25" width="6.20" height="1.50" fill="#000"/>
<rect x="126.3" y="682.5" width="6.20" height="5.00" fill="#000"/>
<rect x="126.3" y="689.5" width="6.20" height="10.50" fill="#000"/>
<rect x="126.3" y="702.0" width="6.20" height="1.50" fill="#000"/>
<rect x="126.3" y="708.0" width="6.20" height="3.25" fill="#000"/>
<rect x="126.3" y="713.75" width="6.20" height="6.25" fill="#000"/>
<rect x="126.3" y="722.5" width="6.20" height="2.00" fill="#000"/>
<rect x="126.3" y="727.0" width="6.20" height="1.00" fill="#000"/>
<rect x="126.3" y="729.0" width="6.20" height="1.00" fill="#000"/>
<rect x="126.3" y="730.5" width="6.20" height="1.00" fill="#000"/>
<text x="196.60" y="621.30" font-size="11" text-anchor="middle" font-weight="bold" font-style="normal" fill="#0a0a0a" stroke="#0a0a0a" stroke-width="0.3" >Chr 13 LOH</text>
<text x="155.80" y="632.80" font-size="8" text-anchor="middle" font-weight="bold" font-style="normal" fill="#0a0a0a" stroke="#0a0a0a" stroke-width="0.22" >0</text>
<text x="186.30" y="632.80" font-size="8" text-anchor="middle" font-weight="bold" font-style="normal" fill="#0a0a0a" stroke="#0a0a0a" stroke-width="0.22" >20</text>
<text x="217.50" y="632.80" font-size="8" text-anchor="middle" font-weight="bold" font-style="normal" fill="#0a0a0a" stroke="#0a0a0a" stroke-width="0.22" >40</text>
<rect x="155" y="635.8" width="77.50" height="103.70" fill="#000"/>
<rect x="155" y="635.8" width="77.50" height="103.70" fill="none" stroke="#111" stroke-width="1.3"/>
<text x="127.90" y="760.60" font-size="11" text-anchor="middle" font-weight="bold" font-style="normal" fill="#0a0a0a" stroke="#0a0a0a" stroke-width="0.3" >UPN 28</text>
<text x="412.00" y="438.00" font-size="11" text-anchor="middle" font-weight="bold" font-style="italic" fill="#0a0a0a" stroke="#0a0a0a" stroke-width="0.3" >MPL W515L</text>
<path d="M327.30,510.62 L327.55,512.36 L327.80,514.10 L328.05,515.75 L328.30,517.27 L328.55,517.85 L328.80,515.91 L329.05,513.56 L329.30,510.81 L329.55,507.69 L329.80,504.25 L330.05,500.62 L330.30,496.93 L330.55,493.36 L330.80,490.09 L331.05,487.31 L331.30,485.20 L331.55,483.89 L331.80,483.47 L332.05,483.96 L332.30,485.34 L332.55,487.52 L332.80,490.34 L333.05,493.64 L333.30,497.23 L333.55,500.93 L333.80,504.55 L334.05,507.96 L334.30,511.05 L334.55,513.77 L334.80,516.08 L335.05,517.99 L335.30,517.98 L335.55,516.07 L335.80,513.76 L336.05,511.04 L336.30,507.94 L336.55,504.53 L336.80,500.91 L337.05,497.22 L337.30,493.63 L337.55,490.33 L337.80,487.51 L338.05,485.34 L338.30,483.96 L338.55,483.47 L338.80,483.89 L339.05,485.21 L339.30,487.32 L339.55,490.10 L339.80,493.37 L340.05,496.95 L340.30,500.64 L340.55,504.27 L340.80,507.70 L341.05,510.82 L341.30,507.64 L341.55,503.63 L341.80,499.20 L342.05,494.47 L342.30,489.62 L342.55,484.86 L342.80,480.44 L343.05,476.62 L343.30,473.61 L343.55,471.63 L343.80,470.79 L344.05,471.17 L344.30,472.72 L344.55,475.35 L344.80,478.89 L345.05,483.11 L345.30,487.76 L345.55,492.61 L345.80,497.41 L346.05,499.05 L346.30,498.72 L346.55,498.78 L346.80,499.23 L347.05,500.03 L347.30,501.17 L347.55,498.36 L347.80,494.72 L348.05,491.31 L348.30,488.32 L348.55,485.93 L348.80,484.30 L349.05,483.52 L349.30,483.66 L349.55,484.71 L349.80,486.59 L350.05,489.18 L350.30,492.32 L350.55,495.82 L350.80,499.49 L351.05,503.16 L351.30,506.66 L351.55,509.89 L351.80,512.76 L352.05,515.23 L352.30,517.29 L352.55,518.96 L352.80,517.53 L353.05,515.43 L353.30,512.87 L353.55,509.83 L353.80,506.34 L354.05,502.46 L354.30,498.31 L354.55,494.04 L354.80,489.84 L355.05,485.92 L355.30,482.51 L355.55,479.80 L355.80,477.98 L356.05,477.16 L356.30,477.40 L356.55,478.69 L356.80,480.93 L357.05,483.99 L357.30,487.66 L357.55,491.74 L357.80,495.99 L358.05,500.23 L358.30,504.27 L358.55,504.89 L358.80,500.90 L359.05,496.68 L359.30,492.41 L359.55,488.29 L359.80,484.54 L360.05,481.37 L360.30,478.99 L360.55,477.54 L360.80,477.13 L361.05,477.77 L361.30,479.44 L361.55,482.02 L361.80,485.33 L362.05,489.19 L362.30,493.36 L362.55,497.63 L362.80,501.81 L363.05,505.74 L363.30,503.53 L363.55,498.98 L363.80,494.10 L364.05,489.06 L364.30,484.08 L364.55,479.41 L364.80,475.31 L365.05,472.04 L365.30,469.80 L365.55,468.73 L365.80,468.92 L366.05,470.35 L366.30,472.92 L366.55,476.46 L366.80,480.75 L367.05,485.54 L367.30,490.56 L367.55,495.58 L367.80,500.37 L368.05,504.79 L368.30,508.72 L368.55,512.10 L368.80,514.93 L369.05,517.21 L369.30,519.01 L369.55,519.00 L369.80,517.43 L370.05,515.51 L370.30,513.25 L370.55,510.66 L370.80,507.81 L371.05,504.77 L371.30,501.66 L371.55,498.62 L371.80,495.82 L372.05,493.40 L372.30,491.52 L372.55,490.30 L372.80,489.82 L373.05,490.11 L373.30,491.16 L373.55,492.88 L373.80,495.18 L374.05,497.91 L374.30,500.91 L374.55,504.01 L374.80,507.08 L375.05,509.99 L375.30,512.64 L375.55,514.99 L375.80,516.99 L376.05,518.65 L376.30,518.75 L376.55,516.95 L376.80,514.69 L377.05,511.96 L377.30,508.75 L377.55,505.08 L377.80,501.04 L378.05,496.76 L378.30,492.39 L378.55,488.14 L378.80,484.22 L379.05,480.88 L379.30,478.30 L379.55,476.66 L379.80,476.06 L380.05,476.56 L380.30,478.10 L380.55,480.60 L380.80,483.88 L381.05,487.75 L381.30,491.98 L381.55,496.35 L381.80,500.65 L382.05,504.72 L382.30,506.11 L382.55,505.48 L382.80,505.12 L383.05,505.05 L383.30,505.27 L383.55,505.77 L383.80,506.53 L384.05,507.51 L384.30,504.60 L384.55,501.31 L384.80,498.04 L385.05,494.97 L385.30,492.25 L385.55,490.06 L385.80,488.53 L386.05,487.77 L386.30,487.83 L386.55,488.70 L386.80,490.32 L387.05,492.59 L387.30,495.36 L387.55,498.47 L387.80,501.75 L388.05,505.04 L388.30,508.19 L388.55,511.11 L388.80,512.59 L389.05,509.69 L389.30,506.44 L389.55,502.92 L389.80,499.25 L390.05,495.58 L390.30,492.10 L390.55,488.99 L390.80,486.44 L391.05,484.61 L391.30,483.62 L391.55,483.54 L391.80,484.38 L392.05,486.06 L392.30,488.50 L392.55,491.52 L392.80,494.95 L393.05,498.60 L393.30,502.28 L393.55,505.84 L393.80,504.83 L394.05,503.47 L394.30,502.34 L394.55,501.50 L394.80,500.98 L395.05,500.81 L395.30,501.00 L395.55,501.54 L395.80,502.39 L396.05,503.54 L396.30,504.91 L396.55,505.69 L396.80,501.70 L397.05,497.45 L397.30,493.08 L397.55,488.79 L397.80,484.81 L398.05,481.36 L398.30,478.65 L398.55,476.85 L398.80,476.08 L399.05,476.41 L399.30,477.79 L399.55,480.15 L399.80,483.32 L400.05,487.11 L400.30,491.30 L400.55,495.66 L400.80,499.98 L401.05,504.09 L401.30,507.86 L401.55,511.20 L401.80,514.05" fill="none" stroke="#6c6c6c" stroke-width="0.95"/>
<path d="M327.30,510.62 L327.55,512.36 L327.80,514.10 L328.05,515.75 L328.30,517.27 L328.55,518.62 L328.80,519.77 L329.05,520.73 L329.30,521.51 L329.55,522.12 L329.80,522.59 L330.05,522.93 L330.30,523.18" fill="none" stroke="#777" stroke-width="0.6"/>
<path d="M327.30,522.71 L327.55,522.22 L327.80,521.54 L328.05,520.62 L328.30,519.40 L328.55,517.85 L328.80,515.91 L329.05,513.56 L329.30,510.81 L329.55,507.69 L329.80,504.25 L330.05,500.62 L330.30,496.93 L330.55,493.36 L330.80,490.09 L331.05,487.31 L331.30,485.20 L331.55,483.89 L331.80,483.47 L332.05,483.96 L332.30,485.34 L332.55,487.52 L332.80,490.34 L333.05,493.64 L333.30,497.23 L333.55,500.93 L333.80,504.55 L334.05,507.96 L334.30,511.05 L334.55,513.77 L334.80,516.08 L335.05,517.99 L335.30,519.51 L335.55,520.70 L335.80,521.60 L336.05,522.26 L336.30,522.74 L336.55,523.07 L336.80,523.30" fill="none" stroke="#777" stroke-width="0.6"/>
<path d="M333.55,523.30 L333.80,523.07 L334.05,522.74 L334.30,522.26 L334.55,521.60 L334.80,520.70 L335.05,519.51 L335.30,517.98 L335.55,516.07 L335.80,513.76 L336.05,511.04 L336.30,507.94 L336.55,504.53 L336.80,500.91 L337.05,497.22 L337.30,493.63 L337.55,490.33 L337.80,487.51 L338.05,485.34 L338.30,483.96 L338.55,483.47 L338.80,483.89 L339.05,485.21 L339.30,487.32 L339.55,490.10 L339.80,493.37 L340.05,496.95 L340.30,500.64 L340.55,504.27 L340.80,507.70 L341.05,510.82 L341.30,513.57 L341.55,515.92 L341.80,517.85 L342.05,519.41 L342.30,520.62 L342.55,521.54 L342.80,522.22 L343.05,522.71 L343.30,523.05 L343.55,523.29" fill="none" stroke="#777" stroke-width="0.6"/>
<path d="M338.80,523.21 L339.05,522.93 L339.30,522.51 L339.55,521.92 L339.80,521.09 L340.05,519.96 L340.30,518.46 L340.55,516.52 L340.80,514.09 L341.05,511.13 L341.30,507.64 L341.55,503.63 L341.80,499.20 L342.05,494.47 L342.30,489.62 L342.55,484.86 L342.80,480.44 L343.05,476.62 L343.30,473.61 L343.55,471.63 L343.80,470.79 L344.05,471.17 L344.30,472.72 L344.55,475.35 L344.80,478.89 L345.05,483.11 L345.30,487.76 L345.55,492.61 L345.80,497.41 L346.05,501.97 L346.30,506.15 L346.55,509.85 L346.80,513.02 L347.05,515.65 L347.30,517.77 L347.55,519.43 L347.80,520.69 L348.05,521.63 L348.30,522.31 L348.55,522.79 L348.80,523.11" fill="none" stroke="#777" stroke-width="0.6"/>
<path d="M344.30,523.15 L344.55,522.86 L344.80,522.43 L345.05,521.83 L345.30,521.01 L345.55,519.91 L345.80,518.49 L346.05,516.71 L346.30,514.52 L346.55,511.93 L346.80,508.94 L347.05,505.62 L347.30,502.05 L347.55,498.36 L347.80,494.72 L348.05,491.31 L348.30,488.32 L348.55,485.93 L348.80,484.30 L349.05,483.52 L349.30,483.66 L349.55,484.71 L349.80,486.59 L350.05,489.18 L350.30,492.32 L350.55,495.82 L350.80,499.49 L351.05,503.16 L351.30,506.66 L351.55,509.89 L351.80,512.76 L352.05,515.23 L352.30,517.29 L352.55,518.96 L352.80,520.28 L353.05,521.28 L353.30,522.03 L353.55,522.57 L353.80,522.96 L354.05,523.22" fill="none" stroke="#777" stroke-width="0.6"/>
<path d="M351.05,523.28 L351.30,523.04 L351.55,522.69 L351.80,522.18 L352.05,521.47 L352.30,520.50 L352.55,519.20 L352.80,517.53 L353.05,515.43 L353.30,512.87 L353.55,509.83 L353.80,506.34 L354.05,502.46 L354.30,498.31 L354.55,494.04 L354.80,489.84 L355.05,485.92 L355.30,482.51 L355.55,479.80 L355.80,477.98 L356.05,477.16 L356.30,477.40 L356.55,478.69 L356.80,480.93 L357.05,483.99 L357.30,487.66 L357.55,491.74 L357.80,495.99 L358.05,500.23 L358.30,504.27 L358.55,507.98 L358.80,511.27 L359.05,514.09 L359.30,516.44 L359.55,518.34 L359.80,519.84 L360.05,520.98 L360.30,521.82 L360.55,522.44 L360.80,522.87 L361.05,523.17" fill="none" stroke="#777" stroke-width="0.6"/>
<path d="M355.80,523.20 L356.05,522.92 L356.30,522.52 L356.55,521.94 L356.80,521.13 L357.05,520.04 L357.30,518.61 L357.55,516.78 L357.80,514.50 L358.05,511.76 L358.30,508.54 L358.55,504.89 L358.80,500.90 L359.05,496.68 L359.30,492.41 L359.55,488.29 L359.80,484.54 L360.05,481.37 L360.30,478.99 L360.55,477.54 L360.80,477.13 L361.05,477.77 L361.30,479.44 L361.55,482.02 L361.80,485.33 L362.05,489.19 L362.30,493.36 L362.55,497.63 L362.80,501.81 L363.05,505.74 L363.30,509.29 L363.55,512.41 L363.80,515.05 L364.05,517.22 L364.30,518.96 L364.55,520.31 L364.80,521.33 L365.05,522.08 L365.30,522.62 L365.55,523.00 L365.80,523.25" fill="none" stroke="#777" stroke-width="0.6"/>
<path d="M360.55,523.23 L360.80,522.95 L361.05,522.55 L361.30,521.96 L361.55,521.14 L361.80,520.02 L362.05,518.52 L362.30,516.59 L362.55,514.15 L362.80,511.16 L363.05,507.61 L363.30,503.53 L363.55,498.98 L363.80,494.10 L364.05,489.06 L364.30,484.08 L364.55,479.41 L364.80,475.31 L365.05,472.04 L365.30,469.80 L365.55,468.73 L365.80,468.92 L366.05,470.35 L366.30,472.92 L366.55,476.46 L366.80,480.75 L367.05,485.54 L367.30,490.56 L367.55,495.58 L367.80,500.37 L368.05,504.79 L368.30,508.72 L368.55,512.10 L368.80,514.93 L369.05,517.21 L369.30,519.01 L369.55,520.39 L369.80,521.41 L370.05,522.16 L370.30,522.68 L370.55,523.05 L370.80,523.29" fill="none" stroke="#777" stroke-width="0.6"/>
<path d="M368.05,523.19 L368.30,522.92 L368.55,522.53 L368.80,521.98 L369.05,521.24 L369.30,520.27 L369.55,519.00 L369.80,517.43 L370.05,515.51 L370.30,513.25 L370.55,510.66 L370.80,507.81 L371.05,504.77 L371.30,501.66 L371.55,498.62 L371.80,495.82 L372.05,493.40 L372.30,491.52 L372.55,490.30 L372.80,489.82 L373.05,490.11 L373.30,491.16 L373.55,492.88 L373.80,495.18 L374.05,497.91 L374.30,500.91 L374.55,504.01 L374.80,507.08 L375.05,509.99 L375.30,512.64 L375.55,514.99 L375.80,516.99 L376.05,518.65 L376.30,519.98 L376.55,521.03 L376.80,521.82 L377.05,522.41 L377.30,522.84 L377.55,523.13" fill="none" stroke="#777" stroke-width="0.6"/>
<path d="M374.80,523.23 L375.05,522.96 L375.30,522.57 L375.55,522.00 L375.80,521.22 L376.05,520.16 L376.30,518.75 L376.55,516.95 L376.80,514.69 L377.05,511.96 L377.30,508.75 L377.55,505.08 L377.80,501.04 L378.05,496.76 L378.30,492.39 L378.55,488.14 L378.80,484.22 L379.05,480.88 L379.30,478.30 L379.55,476.66 L379.80,476.06 L380.05,476.56 L380.30,478.10 L380.55,480.60 L380.80,483.88 L381.05,487.75 L381.30,491.98 L381.55,496.35 L381.80,500.65 L382.05,504.72 L382.30,508.42 L382.55,511.68 L382.80,514.46 L383.05,516.76 L383.30,518.60 L383.55,520.04 L383.80,521.13 L384.05,521.94 L384.30,522.52 L384.55,522.93 L384.80,523.21" fill="none" stroke="#777" stroke-width="0.6"/>
<path d="M381.30,523.23 L381.55,522.97 L381.80,522.60 L382.05,522.08 L382.30,521.36 L382.55,520.40 L382.80,519.16 L383.05,517.59 L383.30,515.67 L383.55,513.38 L383.80,510.73 L384.05,507.78 L384.30,504.60 L384.55,501.31 L384.80,498.04 L385.05,494.97 L385.30,492.25 L385.55,490.06 L385.80,488.53 L386.05,487.77 L386.30,487.83 L386.55,488.70 L386.80,490.32 L387.05,492.59 L387.30,495.36 L387.55,498.47 L387.80,501.75 L388.05,505.04 L388.30,508.19 L388.55,511.11 L388.80,513.71 L389.05,515.95 L389.30,517.82 L389.55,519.35 L389.80,520.55 L390.05,521.47 L390.30,522.16 L390.55,522.66 L390.80,523.01 L391.05,523.26" fill="none" stroke="#777" stroke-width="0.6"/>
<path d="M386.55,523.21 L386.80,522.94 L387.05,522.55 L387.30,521.99 L387.55,521.23 L387.80,520.20 L388.05,518.87 L388.30,517.17 L388.55,515.09 L388.80,512.59 L389.05,509.69 L389.30,506.44 L389.55,502.92 L389.80,499.25 L390.05,495.58 L390.30,492.10 L390.55,488.99 L390.80,486.44 L391.05,484.61 L391.30,483.62 L391.55,483.54 L391.80,484.38 L392.05,486.06 L392.30,488.50 L392.55,491.52 L392.80,494.95 L393.05,498.60 L393.30,502.28 L393.55,505.84 L393.80,509.15 L394.05,512.11 L394.30,514.68 L394.55,516.84 L394.80,518.60 L395.05,519.99 L395.30,521.07 L395.55,521.87 L395.80,522.46 L396.05,522.88 L396.30,523.17" fill="none" stroke="#777" stroke-width="0.6"/>
<path d="M393.80,523.26 L394.05,523.01 L394.30,522.64 L394.55,522.11 L394.80,521.36 L395.05,520.35 L395.30,519.00 L395.55,517.26 L395.80,515.08 L396.05,512.43 L396.30,509.29 L396.55,505.69 L396.80,501.70 L397.05,497.45 L397.30,493.08 L397.55,488.79 L397.80,484.81 L398.05,481.36 L398.30,478.65 L398.55,476.85 L398.80,476.08 L399.05,476.41 L399.30,477.79 L399.55,480.15 L399.80,483.32 L400.05,487.11 L400.30,491.30 L400.55,495.66 L400.80,499.98 L401.05,504.09 L401.30,507.86 L401.55,511.20 L401.80,514.05" fill="none" stroke="#777" stroke-width="0.6"/>
<line x1="327.3" y1="523.7" x2="402" y2="523.7" stroke="#000" stroke-width="1.3"/>
<path d="M416.50,512.42 L416.75,514.15 L417.00,515.80 L417.25,517.01 L417.50,515.11 L417.75,512.92 L418.00,510.48 L418.25,507.85 L418.50,505.14 L418.75,502.45 L419.00,499.93 L419.25,497.71 L419.50,495.92 L419.75,494.69 L420.00,494.09 L420.25,494.17 L420.50,494.91 L420.75,496.27 L421.00,498.16 L421.25,500.46 L421.50,503.04 L421.75,505.74 L422.00,508.45 L422.25,511.04 L422.50,513.43 L422.75,515.56 L423.00,517.39 L423.25,518.92 L423.50,520.16 L423.75,521.14 L424.00,521.14 L424.25,520.06 L424.50,518.66 L424.75,516.88 L425.00,514.68 L425.25,512.03 L425.50,508.95 L425.75,505.49 L426.00,501.72 L426.25,497.77 L426.50,493.80 L426.75,490.01 L427.00,486.60 L427.25,483.77 L427.50,481.71 L427.75,480.53 L428.00,480.34 L428.25,481.13 L428.50,482.85 L428.75,485.40 L429.00,488.60 L429.25,492.26 L429.50,496.18 L429.75,500.16 L430.00,499.69 L430.25,498.52 L430.50,497.71 L430.75,497.28 L431.00,497.26 L431.25,497.65 L431.50,498.43 L431.75,499.57 L432.00,495.43 L432.25,490.59 L432.50,485.79 L432.75,481.29 L433.00,477.32 L433.25,474.14 L433.50,471.94 L433.75,470.87 L434.00,471.00 L434.25,472.32 L434.50,474.75 L434.75,478.12 L435.00,482.22 L435.25,486.81 L435.50,491.63 L435.75,496.46 L436.00,501.09 L436.25,505.35 L436.50,508.48 L436.75,505.62 L437.00,502.71 L437.25,499.88 L437.50,497.28 L437.75,495.06 L438.00,493.37 L438.25,492.30 L438.50,491.93 L438.75,492.28 L439.00,493.34 L439.25,495.03 L439.50,497.24 L439.75,499.83 L440.00,502.66 L440.25,505.57 L440.50,508.43 L440.75,511.14 L441.00,513.60 L441.25,515.53 L441.50,513.31 L441.75,510.77 L442.00,507.98 L442.25,505.02 L442.50,502.01 L442.75,499.09 L443.00,496.40 L443.25,494.11 L443.50,492.36 L443.75,491.25 L444.00,490.87 L444.25,491.24 L444.50,492.33 L444.75,494.07 L445.00,496.35 L445.25,499.03 L445.50,501.95 L445.75,504.96 L446.00,505.71 L446.25,505.72 L446.50,506.00 L446.75,506.56 L447.00,504.47 L447.25,502.41 L447.50,500.67 L447.75,499.34 L448.00,498.53 L448.25,498.28 L448.50,498.60 L448.75,499.49 L449.00,500.87 L449.25,502.67 L449.50,504.76 L449.75,507.03 L450.00,509.36 L450.25,511.65 L450.50,513.80 L450.75,514.67 L451.00,512.18 L451.25,509.34 L451.50,506.21 L451.75,502.88 L452.00,499.49 L452.25,496.17 L452.50,493.11 L452.75,490.48 L453.00,488.45 L453.25,487.14 L453.50,486.64 L453.75,486.99 L454.00,488.16 L454.25,490.07 L454.50,492.61 L454.75,495.60 L455.00,498.88 L455.25,502.28 L455.50,505.63 L455.75,508.80 L456.00,511.70 L456.25,514.25 L456.50,516.43 L456.75,518.23 L457.00,519.68 L457.25,520.81 L457.50,521.26 L457.75,520.27 L458.00,518.98 L458.25,517.35 L458.50,515.36 L458.75,512.99 L459.00,510.25 L459.25,507.21 L459.50,503.93 L459.75,500.54 L460.00,497.18 L460.25,494.02 L460.50,491.24 L460.75,489.01 L461.00,487.46 L461.25,486.71 L461.50,486.79 L461.75,487.71 L462.00,489.41 L462.25,491.76 L462.50,494.63 L462.75,497.85 L463.00,501.23 L463.25,504.61 L463.50,507.85 L463.75,510.84 L464.00,513.50 L464.25,515.79 L464.50,515.33 L464.75,512.61 L465.00,509.33 L465.25,505.50 L465.50,501.18 L465.75,496.46 L466.00,491.50 L466.25,486.50 L466.50,481.70 L466.75,477.36 L467.00,473.73 L467.25,471.04 L467.50,469.46 L467.75,469.11 L468.00,470.00 L468.25,472.07 L468.50,475.19 L468.75,479.16 L469.00,483.73 L469.25,488.64 L469.50,493.65 L469.75,498.53 L470.00,503.09 L470.25,507.21 L470.50,510.81 L470.75,513.85 L471.00,516.34 L471.25,514.60 L471.50,512.07 L471.75,509.18 L472.00,505.99 L472.25,502.57 L472.50,499.08 L472.75,495.66 L473.00,492.48 L473.25,489.74 L473.50,487.59 L473.75,486.18 L474.00,485.59 L474.25,485.88 L474.50,487.02 L474.75,488.93 L475.00,491.49 L475.25,494.53 L475.50,497.89 L475.75,501.38 L476.00,504.84 L476.25,508.12 L476.50,511.12 L476.75,513.78 L477.00,516.05 L477.25,517.94 L477.50,519.46 L477.75,520.15 L478.00,518.96 L478.25,517.51 L478.50,515.81 L478.75,513.86 L479.00,511.72 L479.25,509.43 L479.50,507.10 L479.75,504.83 L480.00,502.73 L480.25,500.92 L480.50,499.52 L480.75,498.62 L481.00,498.28 L481.25,498.51 L481.50,499.31 L481.75,500.62 L482.00,502.36 L482.25,504.41 L482.50,506.66 L482.75,508.99 L483.00,511.29 L483.25,511.54 L483.50,511.40 L483.75,511.44 L484.00,511.68 L484.25,511.58 L484.50,509.22 L484.75,506.79 L485.00,504.40 L485.25,502.18 L485.50,500.24 L485.75,498.71 L486.00,497.69 L486.25,497.24 L486.50,497.39 L486.75,498.13 L487.00,499.42 L487.25,501.16 L487.50,503.26 L487.75,505.58" fill="none" stroke="#6c6c6c" stroke-width="0.95"/>
<path d="M416.50,512.42 L416.75,514.15 L417.00,515.80 L417.25,517.32 L417.50,518.66 L417.75,519.81 L418.00,520.76 L418.25,521.53 L418.50,522.14 L418.75,522.60 L419.00,522.94 L419.25,523.19" fill="none" stroke="#777" stroke-width="0.6"/>
<path d="M416.50,520.95 L416.75,519.91 L417.00,518.61 L417.25,517.01 L417.50,515.11 L417.75,512.92 L418.00,510.48 L418.25,507.85 L418.50,505.14 L418.75,502.45 L419.00,499.93 L419.25,497.71 L419.50,495.92 L419.75,494.69 L420.00,494.09 L420.25,494.17 L420.50,494.91 L420.75,496.27 L421.00,498.16 L421.25,500.46 L421.50,503.04 L421.75,505.74 L422.00,508.45 L422.25,511.04 L422.50,513.43 L422.75,515.56 L423.00,517.39 L423.25,518.92 L423.50,520.16 L423.75,521.14 L424.00,521.89 L424.25,522.45 L424.50,522.86 L424.75,523.14" fill="none" stroke="#777" stroke-width="0.6"/>
<path d="M423.00,523.20 L423.25,522.92 L423.50,522.51 L423.75,521.93 L424.00,521.14 L424.25,520.06 L424.50,518.66 L424.75,516.88 L425.00,514.68 L425.25,512.03 L425.50,508.95 L425.75,505.49 L426.00,501.72 L426.25,497.77 L426.50,493.80 L426.75,490.01 L427.00,486.60 L427.25,483.77 L427.50,481.71 L427.75,480.53 L428.00,480.34 L428.25,481.13 L428.50,482.85 L428.75,485.40 L429.00,488.60 L429.25,492.26 L429.50,496.18 L429.75,500.16 L430.00,504.02 L430.25,507.62 L430.50,510.86 L430.75,513.68 L431.00,516.06 L431.25,518.00 L431.50,519.55 L431.75,520.75 L432.00,521.64 L432.25,522.30 L432.50,522.77 L432.75,523.10" fill="none" stroke="#777" stroke-width="0.6"/>
<path d="M428.75,523.25 L429.00,522.99 L429.25,522.61 L429.50,522.06 L429.75,521.28 L430.00,520.21 L430.25,518.79 L430.50,516.95 L430.75,514.62 L431.00,511.77 L431.25,508.38 L431.50,504.47 L431.75,500.12 L432.00,495.43 L432.25,490.59 L432.50,485.79 L432.75,481.29 L433.00,477.32 L433.25,474.14 L433.50,471.94 L433.75,470.87 L434.00,471.00 L434.25,472.32 L434.50,474.75 L434.75,478.12 L435.00,482.22 L435.25,486.81 L435.50,491.63 L435.75,496.46 L436.00,501.09 L436.25,505.35 L436.50,509.15 L436.75,512.43 L437.00,515.16 L437.25,517.38 L437.50,519.13 L437.75,520.47 L438.00,521.47 L438.25,522.19 L438.50,522.71 L438.75,523.06 L439.00,523.30" fill="none" stroke="#777" stroke-width="0.6"/>
<path d="M433.75,523.20 L434.00,522.93 L434.25,522.55 L434.50,522.02 L434.75,521.31 L435.00,520.36 L435.25,519.15 L435.50,517.63 L435.75,515.80 L436.00,513.64 L436.25,511.18 L436.50,508.48 L436.75,505.62 L437.00,502.71 L437.25,499.88 L437.50,497.28 L437.75,495.06 L438.00,493.37 L438.25,492.30 L438.50,491.93 L438.75,492.28 L439.00,493.34 L439.25,495.03 L439.50,497.24 L439.75,499.83 L440.00,502.66 L440.25,505.57 L440.50,508.43 L440.75,511.14 L441.00,513.60 L441.25,515.76 L441.50,517.60 L441.75,519.12 L442.00,520.34 L442.25,521.29 L442.50,522.01 L442.75,522.54 L443.00,522.93 L443.25,523.19" fill="none" stroke="#777" stroke-width="0.6"/>
<path d="M439.25,523.18 L439.50,522.91 L439.75,522.51 L440.00,521.97 L440.25,521.23 L440.50,520.25 L440.75,519.00 L441.00,517.43 L441.25,515.53 L441.50,513.31 L441.75,510.77 L442.00,507.98 L442.25,505.02 L442.50,502.01 L442.75,499.09 L443.00,496.40 L443.25,494.11 L443.50,492.36 L443.75,491.25 L444.00,490.87 L444.25,491.24 L444.50,492.33 L444.75,494.07 L445.00,496.35 L445.25,499.03 L445.50,501.95 L445.75,504.96 L446.00,507.92 L446.25,510.72 L446.50,513.26 L446.75,515.49 L447.00,517.40 L447.25,518.97 L447.50,520.23 L447.75,521.21 L448.00,521.96 L448.25,522.51 L448.50,522.90 L448.75,523.18" fill="none" stroke="#777" stroke-width="0.6"/>
<path d="M443.50,523.28 L443.75,523.07 L444.00,522.75 L444.25,522.32 L444.50,521.73 L444.75,520.96 L445.00,519.97 L445.25,518.74 L445.50,517.25 L445.75,515.51 L446.00,513.53 L446.25,511.36 L446.50,509.06 L446.75,506.73 L447.00,504.47 L447.25,502.41 L447.50,500.67 L447.75,499.34 L448.00,498.53 L448.25,498.28 L448.50,498.60 L448.75,499.49 L449.00,500.87 L449.25,502.67 L449.50,504.76 L449.75,507.03 L450.00,509.36 L450.25,511.65 L450.50,513.80 L450.75,515.75 L451.00,517.46 L451.25,518.92 L451.50,520.12 L451.75,521.08 L452.00,521.82 L452.25,522.39 L452.50,522.80 L452.75,523.10" fill="none" stroke="#777" stroke-width="0.6"/>
<path d="M448.75,523.13 L449.00,522.83 L449.25,522.40 L449.50,521.80 L449.75,520.98 L450.00,519.90 L450.25,518.51 L450.50,516.78 L450.75,514.67 L451.00,512.18 L451.25,509.34 L451.50,506.21 L451.75,502.88 L452.00,499.49 L452.25,496.17 L452.50,493.11 L452.75,490.48 L453.00,488.45 L453.25,487.14 L453.50,486.64 L453.75,486.99 L454.00,488.16 L454.25,490.07 L454.50,492.61 L454.75,495.60 L455.00,498.88 L455.25,502.28 L455.50,505.63 L455.75,508.80 L456.00,511.70 L456.25,514.25 L456.50,516.43 L456.75,518.23 L457.00,519.68 L457.25,520.81 L457.50,521.67 L457.75,522.31 L458.00,522.77 L458.25,523.09" fill="none" stroke="#777" stroke-width="0.6"/>
<path d="M456.50,523.21 L456.75,522.94 L457.00,522.55 L457.25,522.01 L457.50,521.26 L457.75,520.27 L458.00,518.98 L458.25,517.35 L458.50,515.36 L458.75,512.99 L459.00,510.25 L459.25,507.21 L459.50,503.93 L459.75,500.54 L460.00,497.18 L460.25,494.02 L460.50,491.24 L460.75,489.01 L461.00,487.46 L461.25,486.71 L461.50,486.79 L461.75,487.71 L462.00,489.41 L462.25,491.76 L462.50,494.63 L462.75,497.85 L463.00,501.23 L463.25,504.61 L463.50,507.85 L463.75,510.84 L464.00,513.50 L464.25,515.79 L464.50,517.71 L464.75,519.27 L465.00,520.49 L465.25,521.43 L465.50,522.13 L465.75,522.64 L466.00,523.00 L466.25,523.25" fill="none" stroke="#777" stroke-width="0.6"/>
<path d="M462.75,523.09 L463.00,522.75 L463.25,522.25 L463.50,521.55 L463.75,520.57 L464.00,519.26 L464.25,517.53 L464.50,515.33 L464.75,512.61 L465.00,509.33 L465.25,505.50 L465.50,501.18 L465.75,496.46 L466.00,491.50 L466.25,486.50 L466.50,481.70 L466.75,477.36 L467.00,473.73 L467.25,471.04 L467.50,469.46 L467.75,469.11 L468.00,470.00 L468.25,472.07 L468.50,475.19 L468.75,479.16 L469.00,483.73 L469.25,488.64 L469.50,493.65 L469.75,498.53 L470.00,503.09 L470.25,507.21 L470.50,510.81 L470.75,513.85 L471.00,516.34 L471.25,518.33 L471.50,519.87 L471.75,521.03 L472.00,521.88 L472.25,522.49 L472.50,522.91 L472.75,523.20" fill="none" stroke="#777" stroke-width="0.6"/>
<path d="M469.25,523.14 L469.50,522.84 L469.75,522.41 L470.00,521.81 L470.25,520.98 L470.50,519.90 L470.75,518.50 L471.00,516.74 L471.25,514.60 L471.50,512.07 L471.75,509.18 L472.00,505.99 L472.25,502.57 L472.50,499.08 L472.75,495.66 L473.00,492.48 L473.25,489.74 L473.50,487.59 L473.75,486.18 L474.00,485.59 L474.25,485.88 L474.50,487.02 L474.75,488.93 L475.00,491.49 L475.25,494.53 L475.50,497.89 L475.75,501.38 L476.00,504.84 L476.25,508.12 L476.50,511.12 L476.75,513.78 L477.00,516.05 L477.25,517.94 L477.50,519.46 L477.75,520.65 L478.00,521.55 L478.25,522.22 L478.50,522.71 L478.75,523.05 L479.00,523.28" fill="none" stroke="#777" stroke-width="0.6"/>
<path d="M476.50,523.11 L476.75,522.81 L477.00,522.40 L477.25,521.84 L477.50,521.10 L477.75,520.15 L478.00,518.96 L478.25,517.51 L478.50,515.81 L478.75,513.86 L479.00,511.72 L479.25,509.43 L479.50,507.10 L479.75,504.83 L480.00,502.73 L480.25,500.92 L480.50,499.52 L480.75,498.62 L481.00,498.28 L481.25,498.51 L481.50,499.31 L481.75,500.62 L482.00,502.36 L482.25,504.41 L482.50,506.66 L482.75,508.99 L483.00,511.29 L483.25,513.47 L483.50,515.45 L483.75,517.21 L484.00,518.70 L484.25,519.94 L484.50,520.94 L484.75,521.71 L485.00,522.31 L485.25,522.74 L485.50,523.06 L485.75,523.28" fill="none" stroke="#777" stroke-width="0.6"/>
<path d="M481.75,523.12 L482.00,522.83 L482.25,522.42 L482.50,521.87 L482.75,521.13 L483.00,520.17 L483.25,518.97 L483.50,517.51 L483.75,515.77 L484.00,513.78 L484.25,511.58 L484.50,509.22 L484.75,506.79 L485.00,504.40 L485.25,502.18 L485.50,500.24 L485.75,498.71 L486.00,497.69 L486.25,497.24 L486.50,497.39 L486.75,498.13 L487.00,499.42 L487.25,501.16 L487.50,503.26 L487.75,505.58" fill="none" stroke="#777" stroke-width="0.6"/>
<line x1="416.5" y1="523.7" x2="487.8" y2="523.7" stroke="#000" stroke-width="1.3"/>
<text x="331.20 337.24 343.28 349.32 355.36 361.40 367.44 373.48 379.52 385.56 391.60 397.64" y="464.7" font-family="'Liberation Serif','DejaVu Serif',serif" font-size="7" fill="#6a6a6a" text-anchor="middle">GTGGCAGTTTCC</text>
<text x="420.70 426.74 432.78 438.82 444.86 450.90 456.94 462.98 469.02 475.06 481.10 487.14" y="465.1" font-family="'Liberation Serif','DejaVu Serif',serif" font-size="7" fill="#6a6a6a" text-anchor="middle">GTTGCAGTTTCC</text>
<line x1="343.1" y1="447.3" x2="343.1" y2="454.9" stroke="#000" stroke-width="1.5"/>
<path d="M339.90000000000003,452.7L346.3,452.7L343.1,458.9Z" fill="#000"/>
<line x1="432" y1="447.3" x2="432" y2="455.4" stroke="#000" stroke-width="1.5"/>
<path d="M428.8,453.2L435.2,453.2L432,459.4Z" fill="#000"/>
<text x="364.60" y="541.60" font-size="11" text-anchor="middle" font-weight="bold" font-style="normal" fill="#0a0a0a" stroke="#0a0a0a" stroke-width="0.3" >normal</text>
<text x="458.80" y="541.60" font-size="11" text-anchor="middle" font-weight="bold" font-style="normal" fill="#0a0a0a" stroke="#0a0a0a" stroke-width="0.3" >UPN 27</text>
<text x="406.20" y="616.20" font-size="11" text-anchor="middle" font-weight="bold" font-style="italic" fill="#0a0a0a" stroke="#0a0a0a" stroke-width="0.3" >FLT3 ITD</text>
<defs><linearGradient id="gg" x1="0" y1="0" x2="1" y2="0.25"><stop offset="0" stop-color="#414141"/><stop offset="0.45" stop-color="#363636"/><stop offset="1" stop-color="#2d2d2d"/></linearGradient><linearGradient id="b1" x1="0" y1="0" x2="0" y2="1"><stop offset="0" stop-color="#e8e8e8"/><stop offset="1" stop-color="#8a8a8a"/></linearGradient><filter id="bl" x="-20%" y="-40%" width="140%" height="180%"><feGaussianBlur stdDeviation="0.8"/></filter><filter id="bl2" x="-20%" y="-60%" width="140%" height="220%"><feGaussianBlur stdDeviation="1.4"/></filter></defs>
<rect x="331.2" y="674.4" width="175.5" height="53.3" fill="url(#gg)"/>
<g filter="url(#bl2)"><rect x="343.5" y="681" width="16" height="4.2" fill="#5c5c5c"/><rect x="343.5" y="709.5" width="14.5" height="4.2" fill="#585858"/></g>
<g filter="url(#bl)">
<path d="M371.3,695.2L386.6,693.8L386.6,699.2L371.3,700.6Z" fill="url(#b1)"/>
<path d="M396.3,693.2H411.9V701Q411.9,703.8 408,703.8H400Q396.3,703.8 396.3,701Z" fill="#fafafa"/>
<rect x="419.6" y="693.8" width="18.2" height="9.8" rx="2.2" fill="#fff"/>
<rect x="420.2" y="703.9" width="17" height="7.6" rx="2.6" fill="#f8f8f8"/>
<rect x="444" y="702.2" width="19" height="10.8" rx="3.2" fill="#fff"/>
</g>
<text x="324.80" y="686.30" font-size="11" text-anchor="end" font-weight="bold" font-style="normal" fill="#0a0a0a" stroke="#0a0a0a" stroke-width="0.3" >300bp</text>
<text x="324.80" y="713.80" font-size="11" text-anchor="end" font-weight="bold" font-style="normal" fill="#0a0a0a" stroke="#0a0a0a" stroke-width="0.3" >200bp</text>
<line x1="325.5" y1="683.8" x2="331.3" y2="683.8" stroke="#111" stroke-width="1.5"/>
<line x1="325.5" y1="711.6" x2="331.3" y2="711.6" stroke="#111" stroke-width="1.5"/>
<line x1="368.8" y1="671.6" x2="409.2" y2="671.6" stroke="#111" stroke-width="1.2"/>
<text transform="translate(392.2,668.7) rotate(-90)" font-size="11" font-weight="bold" fill="#0a0a0a" stroke="#0a0a0a" stroke-width="0.3">UPN 28</text>
<text transform="translate(429.3,668.7) rotate(-90)" font-size="11" font-weight="bold" fill="#0a0a0a" stroke="#0a0a0a" stroke-width="0.3">AML</text>
<text transform="translate(455.6,668.7) rotate(-90)" font-size="11" font-weight="bold" fill="#0a0a0a" stroke="#0a0a0a" stroke-width="0.3">normal</text>
</svg>
</body></html>
